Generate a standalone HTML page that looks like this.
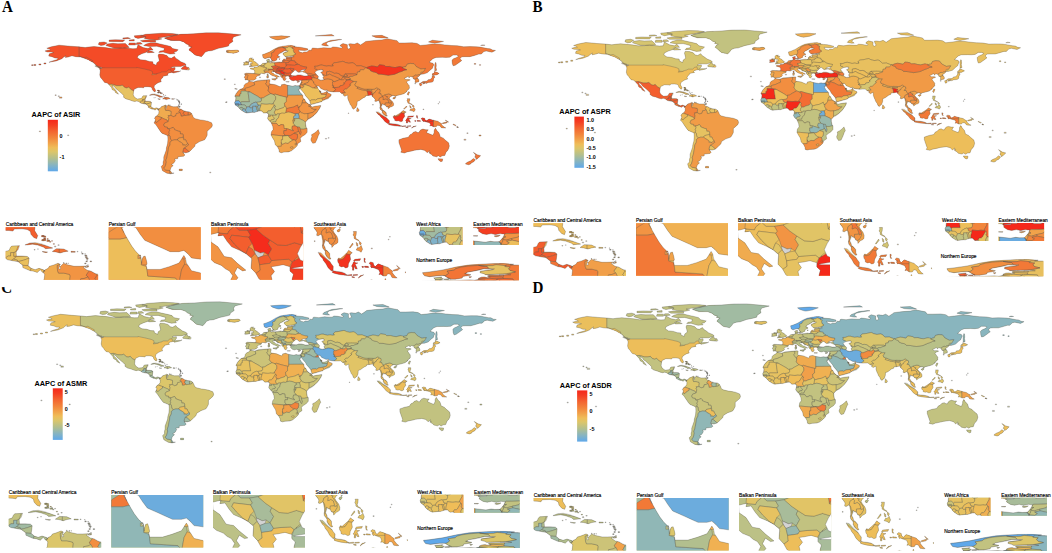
<!DOCTYPE html><html><head><meta charset="utf-8"><style>
html,body{margin:0;padding:0;background:#fff;}
body{width:1052px;height:553px;overflow:hidden;position:relative;}
svg{position:absolute;left:0;top:0;}
text{font-family:"Liberation Sans",sans-serif;}
.lt{font-weight:bold;font-size:7.3px;fill:#000;}
.ll{font-weight:bold;font-size:5.4px;fill:#000;}
.it{font-size:4.85px;fill:#000;stroke:#000;stroke-width:0.15px;}
.pl{font-family:"Liberation Serif",serif;font-weight:bold;font-size:16.6px;fill:#000;}
</style></head><body>
<svg width="1052" height="553" viewBox="0 0 1052 553">
<defs>
<linearGradient id="lg" x1="0" y1="1" x2="0" y2="0">
<stop offset="0.0" stop-color="#5fa8ea"/>
<stop offset="0.12" stop-color="#86b4c2"/>
<stop offset="0.25" stop-color="#b2bf8e"/>
<stop offset="0.38" stop-color="#dcc66a"/>
<stop offset="0.46" stop-color="#efbd58"/>
<stop offset="0.55" stop-color="#f1a24a"/>
<stop offset="0.65" stop-color="#f2863c"/>
<stop offset="0.78" stop-color="#f36430"/>
<stop offset="0.9" stop-color="#f43e22"/>
<stop offset="1.0" stop-color="#f5281a"/>
</linearGradient>
<path id="land" d="M-168,-65.6L-166,-66.3L-163.5,-66.6L-164.5,-67.6L-166.5,-68.3L-163,-69.7L-156.8,-71.3L-152,-70.8L-148,-70.3L-141,-69.7L-136,-69L-133,-69.5L-129,-70L-125,-69.5L-120,-69L-115,-68L-110,-68.2L-106,-68.8L-98,-67.8L-95,-68L-94,-71.8L-90,-69L-86,-68L-84,-69.5L-82,-66.5L-85,-66.5L-87,-64.5L-91,-62.8L-94,-61L-94.5,-59L-92,-57L-88,-56.5L-85,-55.2L-82.3,-55L-82,-53L-79.5,-51.5L-79,-54L-77,-55.8L-77.5,-58.5L-78,-60.8L-77.5,-62.5L-74,-62.3L-71,-61.1L-69.5,-59L-67.5,-58.5L-65,-60.3L-64,-58.5L-61.5,-56.5L-60,-55L-57,-53.5L-55.7,-52.2L-57,-51.4L-60,-50.2L-64,-50.2L-66.5,-50L-68,-48.8L-64.5,-49.2L-64.5,-47.5L-66,-45.3L-64,-45.5L-61,-45.5L-60,-46L-61.5,-45L-66,-43.8L-67,-44.6L-70,-43.7L-70.8,-42.7L-70,-41.8L-71.5,-41.4L-74,-40.6L-74.2,-39.5L-75,-38.8L-76,-37L-75.5,-35.2L-77.5,-34.5L-79,-33.5L-81,-31.5L-81.2,-29.5L-80,-26.8L-80.4,-25.2L-81.5,-25.8L-82.6,-27.5L-82.8,-29L-84,-30L-86,-30.4L-89,-30.3L-89.5,-29.2L-91,-29.5L-94,-29.6L-97,-27.8L-97.5,-25.8L-97.8,-22.5L-97.3,-21L-96,-19.2L-94.5,-18.2L-92,-18.6L-91,-19L-90.5,-20.5L-90,-21.3L-87,-21.5L-87.5,-19.5L-88.3,-18.2L-88.2,-16L-86,-16L-84,-15.8L-83.3,-15L-83.5,-12.5L-83.7,-11L-82.5,-9.5L-81,-8.8L-79.5,-9.5L-77.5,-8.6L-77.3,-7.9L-78.2,-7.4L-79,-8.8L-80.2,-7.3L-81.5,-8L-83,-8.3L-85.7,-9.9L-85.8,-11.2L-87.5,-13L-89.5,-13.5L-91.5,-14L-93.5,-15.7L-95,-16.2L-96.5,-15.7L-98.5,-16.3L-101,-17.5L-103.5,-18.3L-105.5,-20L-105.3,-21.5L-106.5,-23.2L-108.5,-25.3L-110,-27L-111.5,-28.3L-112.8,-30.5L-114.7,-31.8L-114.2,-30L-112.5,-28L-111.3,-26L-110.2,-24.2L-109.5,-23L-110.3,-23.5L-112,-24.7L-112.2,-26L-114.5,-27.5L-115,-29.5L-116.5,-31.5L-117.1,-32.5L-118.5,-34L-120.6,-34.6L-121.9,-36.6L-122.5,-37.8L-123.8,-39.5L-124.4,-42L-124,-46.2L-124.7,-48.4L-123,-48.2L-122.6,-49L-124.5,-50L-127.5,-51L-128,-52.5L-130,-54.5L-131.5,-55.5L-133.5,-57L-136.5,-58.3L-139.5,-59.6L-143.5,-60L-146.5,-60.8L-149.5,-59.6L-151.8,-59.2L-151.5,-61L-153.5,-59.2L-154.5,-58L-156.5,-57L-159,-55.8L-162.5,-55L-164.8,-54.4L-162,-55.8L-158.5,-57L-157.5,-58.5L-160,-58.7L-162.5,-60L-165,-60.6L-164.5,-62.8L-161,-64L-163,-64.5L-166.2,-64.6ZM-73,-78.5L-66,-80.5L-60,-82L-50,-82.5L-40,-83.5L-30,-83.6L-20,-82.5L-12,-81.5L-18,-79.5L-19,-77L-18.5,-75L-21.5,-72.5L-22,-70.5L-25,-69.5L-30,-68.2L-35,-66L-38,-65.6L-40.5,-64.5L-42,-62L-43.5,-60L-45,-60.5L-48.5,-61.5L-50.5,-63.5L-51.7,-65L-53.5,-66.5L-52.5,-68.5L-51,-69.5L-54,-70.5L-53,-71.5L-55.5,-72.5L-57.5,-74.5L-61,-76L-68,-76L-71.5,-77.5ZM-64.5,-63L-68.5,-62.5L-71.5,-63.5L-74,-64.5L-77.5,-64.2L-76.5,-65.5L-73.5,-66L-73,-68.2L-76,-69.2L-79,-70.2L-85,-70L-89.5,-71L-87.5,-72.5L-84,-73.6L-80,-73.6L-76.5,-72.5L-71,-71L-68,-70L-66.5,-68L-62,-66.8L-63.5,-65L-65.5,-64.5ZM-79,-76.3L-75,-77.5L-78,-78.5L-73,-79.5L-66,-80.8L-62,-82L-67,-82.8L-75,-83.1L-88,-82L-92,-80.5L-88,-79.5L-89,-78L-85,-77ZM-80,-74.5L-90,-74.5L-92,-75.8L-88,-76.5L-80,-76.2ZM-101,-69L-102,-70.5L-104,-73L-110,-72.8L-114,-73.2L-118.5,-72.5L-119.5,-71L-117,-70L-113,-68.5L-105,-68.5ZM-121,-71.4L-118.5,-73.5L-121,-74.5L-125,-74L-125.5,-72L-123.5,-71ZM-101.5,-71.5L-96,-71.5L-96,-73.5L-101,-73.5ZM-95.5,-72L-90.5,-72.5L-92,-74L-95,-73.8ZM-117,-75L-106,-74.8L-104.5,-76.4L-112,-76.7L-117,-76.3ZM-101,-75.5L-97,-75.5L-97,-77L-101,-76.5ZM-94,-78L-87.5,-79.5L-91,-81.2L-97,-80.5L-96.5,-79ZM-106,-77.5L-100,-78L-102,-78.8L-106,-78.5ZM-86.5,-63.8L-81,-64.2L-83,-65.2L-85,-66L-87,-65.5ZM-59.3,-47.6L-53.5,-46.7L-52.7,-47.6L-53.5,-49.3L-55.5,-49.6L-56,-51.5L-57.5,-50.6L-59.5,-48.5ZM-123.3,-48.3L-125,-48.8L-128.3,-50.7L-127,-50.8L-124,-49.5ZM-84.9,-21.9L-83,-22.9L-81,-23.1L-78.5,-22.4L-76,-21.1L-74.2,-20.2L-77,-19.9L-77.7,-20.7L-80,-21.8L-82,-22.3L-84,-21.9ZM-74.4,-18.4L-72.8,-19.9L-70,-19.7L-68.3,-18.6L-70,-18.2L-71.4,-17.6L-73,-18.2ZM-78.3,-18.4L-76.2,-18.1L-76.8,-17.8L-78,-18.2ZM-67.2,-18.5L-65.6,-18.4L-65.6,-18L-67.2,-18ZM-77.3,-8.6L-76,-9.5L-75.5,-10.6L-74,-11.2L-72.2,-12.2L-71.3,-11.6L-71.8,-10.8L-71.3,-10.5L-70,-12.2L-69,-11.5L-66,-10.6L-64,-10.6L-61.8,-10.7L-62.5,-10L-61,-8.5L-59.5,-8L-58,-6.8L-55.5,-5.9L-53,-5.5L-51.5,-4.2L-50.5,-1.8L-50,0L-48.5,1.2L-44.5,2.4L-41.5,2.9L-38.5,3.7L-35.5,5.2L-34.8,7.5L-35.3,9.5L-37.5,12L-39,13.5L-39,17.5L-40,20L-41,22L-43.2,23L-45,23.8L-48.5,26.5L-48.8,28.5L-50.5,30.5L-52.5,33L-53.5,34L-56,34.9L-58.3,34.2L-57.2,36.3L-56.7,37L-57.6,38.2L-62.2,38.8L-62.3,40.6L-65,41L-64.3,42.5L-65.5,45L-67.5,46.5L-66,47.5L-67.8,49.5L-68.5,52.3L-67,54.9L-65.3,54.9L-68,55.6L-71,55L-74.5,52.5L-75.5,48.5L-74,46.5L-74,44L-73.5,42L-73.5,39L-72.5,35.5L-71.5,32L-71.4,30L-70.5,26L-70.2,22L-70.3,18.3L-71.5,17.3L-75,15.5L-76.3,13.5L-78.5,9.5L-79.8,7L-81.2,5.5L-80.5,3.5L-80,2.2L-80.9,1L-80,-1L-78.8,-1.8L-77.5,-3.8L-77.3,-6.5L-77.9,-7.2ZM-5.9,-35.8L-2,-35.1L1,-36.5L5,-36.8L9.8,-37.3L11,-37.1L10.5,-35.5L11.1,-35.2L10.2,-34.2L11,-33.3L11.5,-33L15.2,-32.3L19,-30.3L20.1,-31L20,-32.2L22.5,-32.8L25,-31.7L29,-30.9L31,-31.5L32.3,-31.2L34.2,-31.3L34.9,-29.5L34.3,-27.8L33.5,-27.5L35,-24.5L36.9,-22L37.3,-19L38.5,-18L39.7,-15.1L41.7,-13.2L43.3,-12.5L43.2,-11.6L44.5,-10.4L47,-11.1L51.3,-11.8L51.1,-10.4L50,-8L48,-4.5L46,-2L43.5,0.5L41.5,1.8L40,3.5L39.2,4.7L39.3,6.8L39.8,10L40.5,10.8L40.5,14.5L39,16.8L36.8,18.5L35,20.5L35.5,23.8L32.9,25.9L32.6,27.8L31,29.9L28,32.9L25.6,34L22,34.2L20,34.8L18.4,34.2L18.2,32L17,29L15.2,27L14.5,23L13.2,20.5L11.8,17.3L12.2,14L13.5,12L13.2,9L12.2,6L11.8,5L10,3L9,0.7L9.5,-1L9.8,-3L9,-4L8.5,-4.5L6,-4.3L5,-5.5L4,-6.4L2,-6.3L-1.5,-5L-3,-5.1L-7.5,-4.4L-9,-5L-11.5,-6.8L-13,-8.3L-13.7,-9.5L-15,-11L-16.7,-12.4L-17.2,-14.7L-16.5,-16.3L-16.2,-19.5L-17,-21L-16,-23.5L-14.5,-26L-13,-27.6L-11,-28.5L-9.8,-29.8L-9.7,-31.5L-8.5,-33.3L-6.8,-34.1ZM49.3,12L50.4,15.5L49.5,17.5L48.5,21L47,25L45,25.5L43.7,23L43.5,21.5L44.3,19L44,17L46,15.7L47.8,14ZM-5.6,-36L-6.3,-36.8L-7.5,-37.2L-8.9,-37L-8.8,-38.7L-9.5,-39.4L-8.7,-41.5L-9.3,-43L-8,-43.7L-5.8,-43.6L-3,-43.4L-1.5,-43.4L-1.2,-44.5L-1.2,-46.2L-2.3,-47.2L-4.7,-47.9L-4.5,-48.6L-1.6,-48.7L-1.5,-49.7L0,-49.5L1.5,-50.1L1.8,-51L3.5,-51.4L4.5,-52.4L5,-53.3L7,-53.5L8.7,-53.9L8.6,-55.5L8.2,-56.8L10.5,-57.7L10.2,-56.5L10.9,-56L10.5,-55L9.9,-54.5L11,-54L12.5,-54.4L14,-54.1L16,-54.4L18.5,-54.8L19.8,-54.4L21,-55.3L21,-56.5L21.8,-57.5L22.6,-57.7L23.5,-57L24.3,-57.5L23.5,-58.6L24,-59.3L28,-59.5L30.2,-59.9L28.5,-60.5L26,-60.4L23,-60L22.5,-61L21.4,-62L21.5,-63.5L23.5,-64.5L25.3,-65.3L25.5,-65.8L22.5,-65.8L21,-64.5L19.5,-63.5L17.8,-62.5L17.3,-61L18.8,-60L18.5,-59.3L16.5,-58.3L16.3,-56.6L14.3,-55.5L12.8,-55.5L12.5,-56.3L11.8,-57.7L11.2,-59L10.5,-59.2L9.5,-59L7,-58L5.6,-58.8L5.2,-60.5L5,-62L6.5,-62.5L8.5,-63.5L10.5,-64.5L12.5,-66L14.5,-67.5L16.2,-68.5L18,-69.5L20,-70L23,-70.6L25.8,-71.1L28,-71L31,-70.3L30,-69.7L33,-69.4L36,-69.1L41,-67.7L41,-66.5L38.5,-66.1L35,-66.3L33.5,-66.5L34.5,-64.5L37,-63.8L38,-64.6L40.5,-64.6L42,-66.4L44,-66.2L44.2,-67.9L45,-68.5L49,-68L53.5,-68.8L57,-68.5L59.5,-68.5L61,-69.6L64,-69.3L68,-68.4L68.5,-69.6L66.8,-70.5L67,-71.5L69,-72.9L72.5,-71.8L72.5,-70.5L72.5,-68.5L73.5,-67.5L75,-68.5L74,-71L73.5,-72.5L75,-72.8L78,-72.3L80.5,-73.5L83,-71.5L86,-74L87,-75L94,-76L100,-76.5L104,-77.7L107,-77L112,-75.8L113.5,-73.5L118,-73.5L124,-73.7L128,-73L130.5,-71L135,-71.6L140,-72.5L146,-72.3L150,-71.6L155,-71L160,-70.8L165,-69.7L170,-69.9L175,-69.8L178,-69.4L180,-68.9L184,-68L186,-67.8L188,-66.5L190.3,-66.1L187.5,-64.4L183,-65.5L181,-65L179,-62.5L177,-62.5L173,-61L170,-60L166,-60L163.5,-59.9L162,-58L163.5,-56.2L162,-54.8L160,-53L158.3,-51.5L156.6,-51L156,-53L155.7,-56.5L156.8,-57.8L159,-59L161,-60.5L159.5,-61.5L156.5,-61.5L154,-59.5L151,-59.2L148,-59.3L143,-59.2L140.5,-58L137.5,-54.5L140.5,-53.5L141.3,-52L140.5,-50L140.2,-48.5L138.5,-46.9L136,-44L133,-42.8L131,-42.6L129.7,-41L128,-39.5L129.4,-37L129.3,-35.3L127,-34.6L126.3,-34.6L126.5,-36.5L126.1,-37.7L125,-38L124.7,-39.7L122.5,-40.5L121.5,-39L121,-40.8L120,-40L118.5,-39L117.7,-38.7L118.8,-37.5L121.5,-37.5L122.5,-37L120.5,-36L119.5,-35L120.9,-32.5L121.9,-31L121.5,-30L122,-29.5L121.5,-28L120,-26.5L119.5,-25.3L117.5,-23.5L114.5,-22.4L112,-21.7L110.5,-20.4L109.8,-21.5L108.5,-21.6L107.5,-21L106.6,-20.4L105.8,-19L106.7,-17.5L108.5,-15.5L109.3,-13.5L109.2,-11.7L108,-10.8L106.8,-10.4L105,-8.6L104.8,-10.2L103.5,-10.6L102.5,-12.2L101,-12.7L100,-13.4L100.2,-12.4L99.3,-10.3L100.3,-8.3L100.5,-7.2L101.3,-6.8L102.3,-6.1L103.4,-4.8L103.5,-2.7L104.3,-1.4L103.3,-1.3L101.3,-2.8L100.3,-4.5L100.3,-6.2L99.7,-6.8L98.5,-8.2L98.3,-9.5L98.6,-11L98.5,-13L97.7,-16.4L97.3,-16.8L95.3,-15.8L94.3,-16.1L94.6,-18L93.5,-19.5L92.3,-20.7L91.8,-22.3L90.5,-22L89,-21.7L87,-21.5L86.8,-20.2L85,-19.3L82.2,-16.7L80.3,-15.8L80.2,-13.2L79.8,-11.5L79.3,-10.3L78.2,-8.9L77.5,-8.1L76.5,-9L75.8,-11.3L74.8,-12.8L74.1,-15L73.5,-16.5L72.8,-19L72.8,-21.2L72.6,-22.2L70.5,-20.8L69,-22.3L70,-22.8L68.5,-23.5L67.5,-24L66.5,-25.4L64,-25.3L61.6,-25.2L60,-25.4L58.5,-25.7L57.3,-25.9L56.8,-26.6L56.3,-27.1L55.66,-26.9L54.5,-26.9L53.6,-27.4L52.7,-27.9L51.2,-28.72L50.6,-29.7L50.05,-30.74L49.6,-30.95L48.6,-30.95L48.2,-30.74L48.6,-29.7L49.05,-28.72L49.5,-27.8L50.05,-26.9L50.4,-26.5L50.7,-26.08L50.8,-25L50.85,-25.6L51,-26.1L51.25,-26.2L51.4,-25.6L51.5,-25L51.4,-24.7L51.5,-24.06L52.3,-24.06L53.2,-24.06L54.4,-24.5L55.66,-25.07L56,-25.7L56.3,-26.3L56.5,-25.9L56.65,-25.07L57.3,-23.85L58.5,-23.5L59,-23.2L59.8,-22.5L59,-20.5L58.5,-20.4L57.8,-19L56.6,-18.3L55.4,-17.8L53,-16.7L52.2,-15.6L49,-14.5L46,-13.4L43.5,-12.7L43.3,-13.5L42.8,-15L42.5,-16.5L41.3,-18.5L39.2,-21.5L38.3,-23.7L37,-25.5L35.5,-27.8L34.9,-29.3L34.9,-29.6L34.2,-31.3L34.9,-32.6L35.1,-33.1L35.5,-33.9L35.9,-35.3L36.2,-36.6L35.5,-36.6L34.6,-36.8L32.8,-36.1L31.2,-36.8L29.5,-36.2L28,-36.7L27.3,-37.5L26.5,-38.5L26.8,-39.5L26.2,-40L26.2,-40.6L25,-40.9L23.8,-40.7L22.9,-40.6L23.5,-39.9L22.9,-39.3L23.2,-38.2L24,-38.2L23.1,-37.2L23,-36.5L22.5,-36.4L21.7,-36.8L21.3,-37.7L21.8,-38.3L20.8,-38.8L20.2,-39.7L19.4,-40.4L19.5,-41.8L18.5,-42.5L17.4,-43L16,-43.5L15.2,-44.3L14.5,-45.2L13.6,-45.1L13.8,-45.6L12.3,-45.3L12.4,-44.2L13.6,-43.5L14.7,-42.1L16,-41.9L17,-41.1L18.5,-40.1L17.9,-40L17,-40.5L16.5,-39.7L17.1,-39L16.1,-37.9L15.6,-38.3L16.2,-39.3L15.6,-40L14.9,-40.3L14.2,-40.8L13,-41.2L11.9,-42L10.8,-42.9L10.2,-43.9L8.8,-44.4L7.5,-43.8L6.5,-43.1L5,-43.4L4,-43.5L3.1,-43L3.2,-41.9L2.2,-41.3L0.9,-41L0,-39.8L-0.3,-39.4L0.2,-38.7L-0.7,-37.6L-2.1,-36.7L-4.4,-36.7L-5.4,-36.1ZM-5.7,-50.1L-3.5,-50.3L-1,-50.7L1.4,-51.2L1.7,-52.6L0.3,-53.5L-0.1,-54.4L-1.5,-55.2L-2,-56L-2.6,-56.4L-1.8,-57.6L-4,-57.6L-3,-58.6L-5,-58.6L-5.7,-57.5L-5.7,-56.5L-6,-55.5L-5,-55L-4.8,-54.7L-3.4,-54.9L-3.5,-54L-3,-53.4L-4.7,-53.2L-4.2,-52.3L-5.2,-51.8L-3.2,-51.4L-4.5,-51.1ZM-6,-52.2L-6.2,-53.4L-6,-54.5L-5.6,-54.8L-7,-55.3L-8.4,-55.2L-8.6,-54.3L-10,-54.2L-9.9,-53.4L-9,-52.9L-10.3,-52L-9.8,-51.5L-8,-51.7ZM-22.5,-63.9L-21,-63.8L-18,-63.4L-15,-64.3L-13.6,-65.2L-14.5,-66.3L-16,-66.5L-18,-66.2L-20,-66.1L-22.5,-66.4L-24,-65.5L-22,-64.9L-24,-64.8ZM15,-77L17,-76.5L22,-77.5L27,-79.8L20,-80.5L10.5,-79.7L12,-78.3ZM52,-71.4L55.5,-70.6L57.5,-70.7L55.5,-72.5L57,-74.5L62,-75.8L68,-76.9L66,-77L59,-76L55,-74L53,-73ZM95,-79L100,-78.5L105,-78.5L100,-81L92,-80.5ZM137,-74.5L142,-73.2L149,-75L140,-76.2ZM178.5,-71L182,-71.2L180,-71.6ZM47,-80.5L60,-81.9L62,-80.5ZM79.8,-6.2L80.3,-9.8L81.9,-7.4L81.5,-6.2L80.6,-5.9ZM130.9,-34L132.5,-35.5L135,-35.7L136,-36L136.7,-37.3L138.5,-37.5L139.9,-39.5L140,-40.8L141.5,-41.3L142,-39.5L141,-38.3L141,-37L140.8,-35.7L140,-35L139,-34.7L137,-34.6L135.2,-33.5L135,-34.5L133.5,-34.3L131,-33.9ZM129.8,-33.5L131,-33.9L131.8,-32.5L131.2,-31.3L130.3,-31.2L129.8,-32.7ZM132.5,-33L134.7,-33.8L134.3,-34.3L132.8,-34ZM140,-41.5L141.2,-41.8L143.3,-42L145.5,-43.3L144.5,-44L141.7,-45.4L141.6,-43.5L140.3,-43.3ZM142,-46L143.5,-46.5L143,-49.3L143.2,-51L143,-54L142.5,-54.3L142,-51.5L142,-48ZM120.1,-23L121,-25.3L122,-25L121,-22L120.7,-22ZM108.6,-19.2L110.4,-20.1L111,-19.6L110,-18.2L109,-18.4ZM120,-18.5L122.2,-18.5L122,-16.5L121.5,-15.2L122,-14L124,-13L123.8,-12.6L122.7,-13.2L121.5,-13.7L120.6,-14.2L120.5,-15.5L119.8,-16.3L120.4,-17.5ZM122,-7L123,-8.5L124,-8.4L125.5,-9.8L126.5,-7.5L125.5,-5.6L124,-6.5ZM124.3,-12.5L125.7,-11.2L125,-10L124.3,-10.8ZM122,-11.8L123,-11L123.3,-9.3L122.4,-9.6ZM117.2,-8.4L119.5,-11.3L119.9,-10.5L117.8,-8.3ZM95.3,-5.6L97.5,-5.2L100.3,-2.5L103.5,0L104.5,1.5L106,3.2L105.8,5.8L104.5,5.9L102.3,4L100.8,1.5L99,-0.5L98.5,-1.7L97,-3ZM105.2,6.8L106,5.9L108.3,6.3L110.5,6.5L112.6,6.9L114.5,7.7L114.4,8.7L110,8.2L106.5,7.4ZM114.5,8.2L115.7,8.3L115.7,8.8L114.5,8.6ZM116,8.5L119,8.2L119,8.8L116,8.9ZM119.8,8.4L123,8.2L123,8.7L119.8,8.8ZM119,9.5L120.8,9.7L120.8,10.2L119,9.9ZM123.5,10.3L125,9L127.3,8.4L125,9.5L123.8,10.4ZM109.6,-2L111,-1.7L113,-3.2L114.6,-4.5L115.5,-5.3L116.8,-6.9L118,-6L119.3,-5.3L118,-4.3L117.7,-3.5L118.1,-1.1L117.5,0L116.6,1.5L116.4,3.4L115.9,3.9L114.6,4.1L113,3.2L111.8,3.5L110.2,2.9L110.1,1.7L109.2,0.5L109,-1ZM119.4,5.5L120.4,5.5L120.5,3L121.4,4.6L122.8,4.8L122,3L121.3,1.9L123.3,1L121.5,0.9L120.2,-0.5L121.1,-1.2L124.5,-1.5L125.2,-1.6L124.6,-0.5L121,-0.3L120,0.8L119.5,2L118.8,3L119.6,4ZM127.5,-2L128.5,-1.5L128,-0.5L128.7,0.8L127.8,0.6L127.5,-0.8ZM128,3L130.5,3.2L130.8,3.8L128,3.7ZM126,3.2L127.2,3.3L127,3.8L126.1,3.7ZM131,1.3L132.2,0.4L134,0.9L134.3,2.5L135.5,3.3L137.5,1.6L140,2.4L142.5,3.2L144.5,3.8L145.8,5L147.6,6.1L147.3,7L148.2,8.1L149.5,9.5L150.8,10.3L149.5,10.4L147.2,10.1L146,8.1L144.2,7.7L143.3,9L142.3,9.2L141,9.1L139.2,8.1L138,8.3L138.7,7L137.8,5.2L135.2,4.4L133.5,3.8L132.8,4.1L132,2.8L133.2,2.4L132.3,2.2ZM148,5.5L152,4.3L151.5,5.5L148.3,6.1ZM150.5,2.6L153,4.5L152.5,4.7L150.5,3ZM156.5,6.5L159,7.8L158.5,8.2L156.5,7ZM159.5,9.2L161,9.8L160.5,10L159.5,9.6ZM113.5,22L114.2,21.8L116.7,20.6L121,19.5L122.3,17L123.5,16.5L125,14.6L126.9,13.8L128.3,14.9L129.5,14.9L130.1,13.2L131,12.2L132.6,11.5L135,12.2L136.8,12.2L136,13.5L135.5,15L137.7,16.2L140.5,17.6L141.5,15L141.6,12.7L142.5,10.7L143.5,12.7L144.5,14.2L145.3,15L145.9,17L146.3,19L148.8,20.4L150.5,22.5L153,25L153.6,28.2L153,31L152,33L151,34L150,37.5L148,37.8L146.3,39L144.9,37.8L143.5,38.8L140.5,38L139.5,36.5L138,35.6L138.5,34.3L137.5,35.2L137.8,32.8L136,34.8L135,33.5L134.2,32.6L131,31.5L126,32.3L124,33L120,34L117.9,35.1L115,34.3L115.7,32.5L115,30L114,26.5L113.5,24.5ZM144.6,40.7L148.3,40.9L148,43.2L146.8,43.6L145.2,42.2ZM172.7,34.4L174.5,35.8L175.7,36.8L178.5,37.7L177,39.5L176.2,40.5L174.8,41.4L174.6,39.6L173.8,39.2L174.5,37ZM172.7,40.5L174.3,41.7L173,43.8L171,44.9L170.5,46L169,46.7L166.5,46L166.7,45.2L168.3,44L170.6,42.8L172,41.3ZM50.5,-26L50.65,-26L50.65,-26.35L50.5,-26.35ZM32.3,-35.1L33,-35.4L34.6,-35.7L34,-35L33,-34.6ZM23.5,-35.3L26.3,-35.3L26,-35L23.6,-35.2ZM12.4,-38.1L15.6,-38.3L15.1,-36.7L12.5,-37.6ZM8.4,-41L9.8,-41.2L9.6,-39L8.5,-38.9ZM8.6,-42.9L9.5,-43L9.5,-41.4L8.8,-41.6ZM11,-55.5L12.6,-56L12.4,-55.2L11.2,-55.2ZM18.2,-57.9L19,-57.9L18.5,-57ZM-61.9,-10.05L-60.9,-10.1L-61,-10.85L-61.6,-10.7ZM-176.8,-52.28h1.6v0.96h-1.6ZM-172.8,-52.78h1.6v0.96h-1.6ZM-168.8,-53.78h1.6v0.96h-1.6ZM-178.6,-51.96h1.2v0.72h-1.2ZM173.4,-53.16h1.2v0.72h-1.2ZM177.5,-52.1h1v0.6h-1ZM-156.5,-20.2h2v1.2h-2ZM-157.5,-21.3h1v0.6h-1ZM-160,-22.3h1v0.6h-1ZM-78.1,-24.86h1.2v0.72h-1.2ZM-76.5,-24.3h1v0.6h-1ZM-78.5,-26.8h1v0.6h-1ZM-77.7,-25.74h0.8v0.48h-0.8ZM-61.7,-15.64h0.8v0.48h-0.8ZM-61.4,-14.84h0.8v0.48h-0.8ZM-62,-12.28h0.6v0.36h-0.6ZM-61.5,-13.38h0.6v0.36h-0.6ZM-59.9,-13.38h0.6v0.36h-0.6ZM-61.9,-16.44h0.8v0.48h-0.8ZM-63.1,-17.38h0.6v0.36h-0.6ZM-61.5,-10.8h1v0.6h-1ZM-25.5,-38.1h1v0.6h-1ZM-17,-28.6h1v0.6h-1ZM-15.9,-28.24h0.8v0.48h-0.8ZM-17.4,-32.94h0.8v0.48h-0.8ZM-24.4,-15.24h0.8v0.48h-0.8ZM-23.9,-15.44h0.8v0.48h-0.8ZM-61.2,50.98h2.4v1.44h-2.4ZM-37,54h1v0.6h-1ZM55,20.7h1v0.6h-1ZM57.2,19.96h0.8v0.48h-0.8ZM165.2,21.52h1.6v0.96h-1.6ZM177.2,17.32h1.6v0.96h-1.6ZM-172.5,13.4h1v0.6h-1ZM-150,17.3h1v0.6h-1ZM167.5,15.2h1v0.6h-1ZM159.6,9.26h0.8v0.48h-0.8ZM73.1,-4.38h0.6v0.36h-0.6ZM92.4,-12.74h0.8v0.48h-0.8ZM132.6,-8.24h0.8v0.48h-0.8ZM144.5,-13.68h0.6v0.36h-0.6ZM145.4,-15.38h0.6v0.36h-0.6ZM2.5,-39.9h1v0.6h-1ZM126.1,-33.64h0.8v0.48h-0.8ZM-78.35,-26.81h0.7v0.42h-0.7ZM-77.5,-26.58h0.6v0.36h-0.6ZM-78.45,-24.67h0.9v0.54h-0.9ZM-77.55,-25.17h0.4v0.24h-0.4ZM-76.45,-25.15h0.5v0.3h-0.5ZM-75.95,-24.45h0.5v0.3h-0.5ZM-75.45,-23.65h0.5v0.3h-0.5ZM-74.7,-24.12h0.4v0.24h-0.4ZM-74.05,-22.55h0.5v0.3h-0.5ZM-73.6,-21.23h0.6v0.36h-0.6ZM-72.25,-21.95h0.5v0.3h-0.5ZM-64.9,-18.47h0.4v0.24h-0.4ZM-63.25,-18.19h0.3v0.18h-0.3ZM-62.9,-17.39h0.3v0.18h-0.3ZM-61.98,-17.21h0.36v0.22h-0.36ZM-61.8,-16.35h0.5v0.3h-0.5ZM-61.53,-15.51h0.36v0.22h-0.36ZM-61.2,-14.77h0.4v0.24h-0.4ZM-61.1,-13.99h0.3v0.18h-0.3ZM-61.32,-13.32h0.24v0.14h-0.24ZM-61.82,-12.17h0.24v0.14h-0.24ZM-59.7,-13.24h0.3v0.18h-0.3ZM-60.85,-11.34h0.3v0.18h-0.3ZM-69.2,-12.32h0.4v0.24h-0.4ZM-70.15,-12.59h0.3v0.18h-0.3ZM-68.42,-12.27h0.24v0.14h-0.24ZM-81.4,-19.42h0.4v0.24h-0.4ZM-80.05,-19.79h0.3v0.18h-0.3Z"/>
<path id="water" d="M27.5,-42.5L28,-43.4L28.6,-44.2L29.6,-45.2L30.6,-46.5L31.5,-46.6L32.5,-45.4L33.5,-44.5L34.5,-44.6L36.6,-45.3L37.5,-44.7L38.5,-44.3L40,-43.4L41.5,-41.6L40,-41L38,-41L36.2,-41.7L35,-42L33,-42L31.3,-41.2L29.1,-41.2L28,-41.6ZM35,-45.7L35.5,-46.5L37,-47.1L39.2,-47.2L38,-46L36.6,-45.4ZM46.7,-44.5L47.5,-45.7L49,-46.5L51.5,-47L53,-46.9L53,-45.3L51.3,-44.5L52.6,-42.8L52.9,-41.5L53.9,-40.6L53,-39.3L53.9,-37.3L51.5,-36.8L50,-37.4L49,-38.4L49.5,-40.3L48.5,-41.8L47.5,-43ZM26.5,-40.4L29.5,-40.8L29,-40.3L27,-40.3ZM-71.9,-9.1L-71.2,-9.2L-71.4,-10.6L-71.7,-10.5Z"/>
<clipPath id="lc"><use href="#land"/></clipPath>

<path id="c_CAN" d="M-141,-86L-141,-60.3L-130,-54.5L-125,-49L-60,-40L-40,-70L-60,-86Z"/>
<path id="c_USA" d="M-126,-49L-95,-49L-95,-49.4L-89.5,-48L-84.5,-46.5L-82.5,-45.3L-82.4,-43L-83,-42L-79,-42.8L-79,-43.3L-76.5,-44L-75,-45L-71.5,-45L-70,-46.7L-68,-47.3L-67.8,-45.5L-66.5,-44.5L-60,-40L-75,-25L-80,-24L-97.2,-25.9L-99.5,-27.5L-101.4,-29.8L-103,-29L-104.5,-29.6L-106.5,-31.8L-108.2,-31.3L-111,-31.3L-114.7,-32.7L-117.1,-32.5L-125,-32Z"/>
<path id="c_ALA" d="M-190,-75L-141,-75L-141,-60.3L-137,-59L-135,-59.5L-133,-58L-130,-56L-130,-54.5L-135,-54L-190,-50Z"/>
<path id="c_MEX" d="M-117.1,-32.5L-114.7,-32.7L-111,-31.3L-108.2,-31.3L-106.5,-31.8L-104.5,-29.6L-103,-29L-101.4,-29.8L-99.5,-27.5L-97.2,-25.9L-95,-25L-86,-21.5L-87.5,-21.5L-88.3,-18.5L-89.1,-17.8L-90.4,-17.8L-90.4,-16L-91.4,-16L-92.2,-15.2L-92.2,-14.5L-93,-14L-120,-20L-120,-33Z"/>
<path id="c_GTM" d="M-92.2,-14.5L-92.2,-15.2L-91.4,-16L-90.4,-16L-90.4,-17.8L-89.1,-17.8L-89.2,-15.9L-88.2,-15.7L-89.2,-14.5L-90.1,-13.7L-92,-13.5Z"/>
<path id="c_BLZ" d="M-89.1,-17.8L-88.3,-18.5L-87.5,-18.5L-88.2,-16L-89.2,-15.9Z"/>
<path id="c_SLV" d="M-90.1,-13.7L-89.2,-14.5L-87.8,-13.9L-87.7,-13.2L-89.5,-13.3Z"/>
<path id="c_HND" d="M-89.2,-14.5L-88.2,-15.7L-84,-16L-83.1,-15L-85,-14L-86.8,-13.3L-87.7,-13.2L-87.8,-13.9Z"/>
<path id="c_NIC" d="M-83.1,-15L-85,-14L-86.8,-13.3L-87.7,-12.9L-85.7,-11.1L-83.7,-10.9L-83.2,-12Z"/>
<path id="c_CRI" d="M-85.7,-11.1L-83.7,-10.9L-82.5,-9.5L-82.9,-8L-86,-9.5Z"/>
<path id="c_PAN" d="M-82.5,-9.5L-82.9,-8L-80,-7L-77.2,-7.5L-77.8,-8.8L-79.5,-9.8Z"/>
<path id="c_CUB" d="M-86,-21L-74,-19.5L-74,-21L-86,-23.5Z"/>
<path id="c_HTI" d="M-75,-17.5L-71.7,-17.5L-71.7,-20L-75,-20Z"/>
<path id="c_DOM" d="M-71.7,-17.5L-68,-17.5L-68,-20L-71.7,-20Z"/>
<path id="c_JAM" d="M-79,-17.5L-76,-17.5L-76,-18.7L-79,-18.7Z"/>
<path id="c_PRI" d="M-68,-17.8L-65,-17.8L-65,-18.7L-68,-18.7Z"/>
<path id="c_BHS" d="M-79.5,-23.6L-73,-21.3L-73,-27.5L-79.5,-27.5Z"/>
<path id="c_GRL" d="M-73.5,-78L-69.5,-79.8L-66.5,-80.7L-63,-81.8L-61,-82.6L-58,-84.5L-10,-84.5L-10,-59L-44,-59L-50,-61L-56,-66L-55.5,-70L-58,-74L-66,-75.8Z"/>
<path id="c_ISL" d="M-25,-63L-13,-63L-13,-67L-25,-67Z"/>
<path id="c_COL" d="M-77.3,-8.6L-75,-11.5L-72,-12.5L-71,-11.8L-72.5,-11L-72.4,-8.4L-72,-7L-70,-7L-67.8,-6.3L-67.5,-5.5L-67.8,-2L-70,-1.8L-69.5,-0.8L-70,0L-69.5,1L-70,4.2L-71,2.5L-73.5,1.3L-75.5,0L-77,-0.6L-78.9,-1.5L-79.5,-2L-78,-7.5Z"/>
<path id="c_VEN" d="M-72,-12.5L-71,-11.8L-72.5,-11L-72.4,-8.4L-72,-7L-70,-7L-67.8,-6.3L-67.5,-5.5L-67.8,-2L-66,-0.8L-64,-1.5L-63.5,-3.9L-62,-4.2L-60.7,-5L-61.4,-5.9L-60,-8.5L-59,-9L-60,-11L-69,-12.5Z"/>
<path id="c_GUY" d="M-61.4,-5.9L-60.7,-5L-60,-3L-59.8,-1.3L-58.5,-1.3L-57.3,-2L-56.5,-1.9L-58,-4L-57.2,-5.9L-58,-7L-60,-8.5Z"/>
<path id="c_SUR" d="M-57.2,-5.9L-58,-4L-56.5,-1.9L-54,-2.2L-54,-5.8Z"/>
<path id="c_GUF" d="M-54,-5.8L-54,-2.2L-52.5,-2.5L-51.5,-4.4L-53,-6Z"/>
<path id="c_ECU" d="M-81,1L-80.5,3.5L-80.3,4.3L-79,5L-78,3.5L-75.5,1.5L-75.5,0L-77,-0.6L-78.9,-1.5L-80,-1.5Z"/>
<path id="c_PER" d="M-81.5,4L-80.3,4.3L-79,5L-78,3.5L-75.5,1.5L-75.5,0L-73.5,1.3L-71,2.5L-70,4.2L-72.8,5.5L-73.5,7.3L-72.9,9L-70.6,9.5L-70.5,11L-69.5,11L-68.7,12.5L-69.4,14.5L-69,15.5L-69.4,17L-70.4,18.4L-75,16L-82,5Z"/>
<path id="c_BRA" d="M-73.5,7.3L-72.9,9L-70.6,9.5L-70.5,11L-69.5,11L-68.5,11L-66,9.8L-65.3,10.8L-65,12L-62,13.5L-60.5,13.8L-60.2,16.3L-58.4,16.3L-58,17.5L-57.7,20L-58.1,20.5L-56,22.2L-55.5,24L-54.6,25.6L-53.8,27.1L-57,30.2L-56,30.9L-53.5,33.7L-52,34L-30,30L-30,-5L-51.5,-4.4L-52.5,-2.5L-54,-2.2L-56.5,-1.9L-57.3,-2L-58.5,-1.3L-59.8,-1.3L-60,-3L-60.7,-5L-62,-4.2L-63.5,-3.9L-64,-1.5L-66,-0.8L-67.8,-2L-70,-1.8L-69.5,-0.8L-70,0L-69.5,1L-70,4.2L-72.8,5.5Z"/>
<path id="c_BOL" d="M-69.5,11L-68.5,11L-66,9.8L-65.3,10.8L-65,12L-62,13.5L-60.5,13.8L-60.2,16.3L-58.4,16.3L-58,17.5L-58.2,19.8L-61.8,20.5L-62.8,22.2L-65,22.1L-67,22.8L-68.2,21.5L-68.5,18.5L-69.4,17L-69,15.5L-69.4,14.5L-68.7,12.5Z"/>
<path id="c_PRY" d="M-58,19.5L-61.8,20.5L-62.8,22.2L-60.5,24L-58,26.5L-56,27.4L-54.6,25.6L-55.5,24L-56,22.2L-57.8,22Z"/>
<path id="c_URY" d="M-58.4,33.5L-57.6,30.2L-56,30.9L-53.5,33.7L-54,35L-58,35Z"/>
<path id="c_CHL" d="M-70.4,18.4L-69.4,17.5L-68.5,18.5L-68.2,21.5L-67,22.8L-68.5,24.5L-68.5,27L-69.8,30L-70,33L-70.5,36L-71,39.5L-71.8,42L-71.5,44L-71.8,46L-72.5,48.5L-73.5,50L-72,51.8L-68.5,52.5L-68.6,55L-67,55.5L-80,56L-80,18Z"/>
<path id="c_ARG" d="M-65,22.1L-67,22.8L-68.5,24.5L-68.5,27L-69.8,30L-70,33L-70.5,36L-71,39.5L-71.8,42L-71.5,44L-71.8,46L-72.5,48.5L-73.5,50L-72,51.8L-68.5,52.5L-68.6,55L-60,56L-50,40L-58,35L-58.4,33.5L-57.6,30.2L-53.8,27.1L-54.6,25.6L-56,27.4L-58.5,27.3L-58.5,25.5L-61,23.8L-62.8,22.2Z"/>
<path id="c_FLK" d="M-62,53L-57,53L-57,50L-62,50Z"/>
<path id="c_RUS" d="M27,-40L27,-86L195,-86L195,-40L135,-42L131,-42.5L134.5,-48.3L131,-47.7L127.5,-50L125.5,-53L122.5,-53.3L120,-52.5L119,-50.1L117.5,-49.8L116,-48.9L114,-50.2L110.5,-49.2L108,-49.6L106,-50.3L103,-50.2L102,-51.3L100,-51.7L98,-52L96.5,-49.8L94,-50.5L92,-50.8L90,-50.2L87.8,-49.2L85.7,-49.8L83.3,-51L80,-50.8L77.8,-53.3L76.5,-54L74.5,-53.6L73.4,-53.5L71,-54.2L69,-55.4L65.2,-54.4L62,-53.9L61,-53L60.5,-52.2L61,-52L61.3,-50.8L59.5,-50.6L58,-51L55.7,-50.6L52.3,-51.7L50.7,-51.6L48.7,-50.6L48,-50.5L46.5,-50.5L47,-49.2L46.5,-48.5L47.3,-47.7L48.5,-47.4L49,-46.5L47,-44L47.8,-41.9L46.5,-41.8L44,-42.8L42,-43.5L40,-43.4L38,-47L40.2,-49.6L38.2,-50L35.3,-51L34,-52.3L31.8,-52.1L32.7,-53.3L31,-54.2L30.8,-55.6L28.2,-56.2L27.7,-57.6L28.2,-59.5L27,-60L29.5,-61L31.5,-62.8L30,-64L29.5,-66L30,-67.5L28.5,-68L28.5,-69L29,-69.7L27,-70.5Z"/>
<path id="c_KGD" d="M19.6,-54.4L22.8,-54.4L21,-55.3Z"/>
<path id="c_NOR" d="M4,-58L7,-57.8L10.5,-58.8L11.5,-59L12,-60L12.5,-61.5L12,-63.5L14,-64.5L14.5,-66L16,-67.5L18,-68.5L20,-69L21,-69.2L22.5,-68.8L25,-69L26,-69.9L28.5,-69L29,-69.7L32,-70L31,-72L4,-72Z"/>
<path id="c_SWE" d="M11,-58.8L11.5,-59L12,-60L12.5,-61.5L12,-63.5L14,-64.5L14.5,-66L16,-67.5L18,-68.5L20,-69L21,-69.2L23.5,-68L24,-66L22,-65.5L19,-63L17,-61L19,-60L19.5,-57L16,-55.2L13,-55.2L12,-57Z"/>
<path id="c_FIN" d="M21,-69.2L22.5,-68.8L25,-69L26,-69.9L28.5,-69L28.5,-68L30,-67.5L29.5,-66L30,-64L31.5,-62.8L29,-61L27.8,-60.5L22,-59.5L20,-61L21.5,-63.5L25,-65L24,-66L23.5,-68Z"/>
<path id="c_DNK" d="M8,-54.9L11,-54.8L12.9,-54.8L12.9,-56.2L10.7,-57.8L8,-57Z"/>
<path id="c_EST" d="M21.5,-57.9L28,-57.5L28.2,-59.5L21.5,-59.5Z"/>
<path id="c_LVA" d="M20.5,-56L26.6,-55.7L28.2,-56.2L27.7,-57.6L25,-58L21.5,-57.9Z"/>
<path id="c_LTU" d="M21,-55.2L22.8,-54.4L23.5,-53.9L25.8,-54.2L26.6,-55.7L24,-56.4L20.5,-56.2Z"/>
<path id="c_BLR" d="M23.5,-53.9L23.5,-52L23.6,-51.5L25,-51.9L27,-51.7L30.5,-51.4L31.8,-52.1L32.7,-53.3L31,-54.2L30.8,-55.6L28.2,-56.2L26.6,-55.7L25.8,-54.2Z"/>
<path id="c_UKR" d="M22.2,-48.4L22.7,-49.6L24,-50.8L23.6,-51.5L25,-51.9L27,-51.7L30.5,-51.4L31.8,-52.1L34,-52.3L35.3,-51L38.2,-50L40.2,-49.6L39.8,-47.8L38.2,-47.1L35,-46L33.5,-44.2L32.5,-45.4L30.5,-46.5L29.5,-45.3L28.2,-45.5L28.9,-46.5L30,-48L27,-48.5L26.6,-48.3L24.9,-47.7L22.9,-48Z"/>
<path id="c_MDA" d="M26.6,-48.3L27,-48.5L30,-48L28.9,-46.5L28.2,-45.5L28,-46.5Z"/>
<path id="c_POL" d="M14.2,-53.9L19.6,-54.4L22.8,-54.4L23.5,-53.9L23.5,-52L23.6,-51.5L24,-50.8L22.7,-49.6L22.5,-49.1L19,-49.4L18.8,-49.5L17,-50.3L15,-51L14.6,-52.6Z"/>
<path id="c_DEU" d="M6,-53.5L8.7,-54L8.6,-55L10,-54.8L11,-54L14.2,-53.9L14.6,-52.6L15,-51L12,-50.3L13.8,-48.7L13,-47.5L10.5,-47.5L7.6,-47.6L8.2,-49L6.4,-49.5L6.1,-50.7L6,-51.8L7,-52.2L7.2,-53.2Z"/>
<path id="c_NLD" d="M3.4,-51.4L5.8,-50.8L6,-51.8L7,-52.2L7.2,-53.2L6,-53.7L4.5,-53.5Z"/>
<path id="c_BEL" d="M2.5,-51.1L3.4,-51.4L5.8,-50.8L6.1,-50.7L6.4,-49.5L5.8,-49.5L4.8,-50L4.1,-50.3Z"/>
<path id="c_FRA" d="M-6,-48.5L1.6,-51L2.5,-51.1L4.1,-50.3L4.8,-50L5.8,-49.5L6.4,-49.5L8.2,-49L7.6,-47.6L6,-46.2L7,-45.9L6.6,-45.1L7,-44.2L7.6,-43.8L3,-42.4L1.5,-42.6L-1.8,-43.3L-5,-44Z"/>
<path id="c_COR" d="M8.4,-41.2L9.8,-41.2L9.8,-43.2L8.4,-43.2Z"/>
<path id="c_ESP" d="M-9.8,-43.9L-1.8,-43.3L1.5,-42.6L3.5,-42.4L0,-38L-2,-36.5L-5.6,-35.9L-7.4,-37.2L-7.3,-38.5L-7,-39.7L-6.9,-41.9L-8.2,-42.1L-9.8,-42Z"/>
<path id="c_PRT" d="M-8.2,-42.1L-6.9,-41.9L-6.3,-41.5L-7,-39.7L-7.3,-38.5L-7.4,-37.2L-9.8,-36.5L-10,-42Z"/>
<path id="c_GBR" d="M-6.5,-49.8L2,-50.5L2,-59L-7,-59L-5.5,-55.3L-8.2,-54.6L-7.3,-54L-5.5,-54Z"/>
<path id="c_IRL" d="M-10.5,-51.3L-5.8,-52L-6,-54L-7.3,-54L-8.2,-54.6L-7.5,-55.4L-10.5,-55.4Z"/>
<path id="c_CHE" d="M6,-46.2L7.6,-47.6L9.5,-47.6L10.5,-46.9L10.1,-46.2L9,-45.8L7,-45.9Z"/>
<path id="c_AUT" d="M9.5,-47.6L10.5,-47.5L13,-47.5L13.8,-48.7L15,-49L17,-48.6L17.1,-47.7L16.5,-46.5L13.7,-46.5L12.2,-47L10.5,-46.9Z"/>
<path id="c_ITA" d="M6.6,-45.1L7,-45.9L9,-45.8L10.1,-46.2L10.5,-46.9L12.2,-47L13.7,-46.5L13.8,-45.6L19,-40L16,-37L10,-43.5L7.6,-43.8L7,-44.2Z"/>
<path id="c_SIC" d="M12,-36.5L15.7,-36.5L15.7,-38.35L12,-38.35Z"/>
<path id="c_SAR" d="M8,-38.7L10,-38.7L10,-41.3L8,-41.3Z"/>
<path id="c_CZE" d="M12,-50.3L15,-51L17,-50.3L18.8,-49.5L17,-48.6L15,-49L13.8,-48.7Z"/>
<path id="c_SVK" d="M17,-48.6L18.8,-49.5L19,-49.4L22.5,-49.1L22.2,-48.4L20.5,-48.5L18.8,-47.8L17.1,-47.7Z"/>
<path id="c_HUN" d="M16.1,-46.8L17.1,-47.7L18.8,-47.8L20.5,-48.5L22.2,-48.4L22.9,-48L21.5,-46.5L20.3,-46.1L18.8,-45.9L17.3,-45.9Z"/>
<path id="c_SVN" d="M13.6,-45.5L13.7,-46.5L16.1,-46.8L16.5,-46.5L15.5,-45.8L15.3,-45.4L13.8,-45.5Z"/>
<path id="c_HRV" d="M13.4,-45.1L13.6,-45.5L15.3,-45.4L15.5,-45.8L16.5,-46.5L17.3,-45.9L18.8,-45.9L19.3,-45.2L19,-44.9L16,-45.2L15.7,-44.7L16.5,-43.9L17.6,-43L18.5,-42.5L17.4,-42.9L16,-43.4L15,-44.2L14.4,-45.1Z"/>
<path id="c_BIH" d="M15.7,-44.7L16,-45.2L19,-44.9L19.6,-44L19,-43.5L18.5,-42.5L17.6,-43L16.5,-43.9Z"/>
<path id="c_SRB" d="M18.8,-45.9L20.3,-46.1L21.5,-45.2L22.7,-44.5L22.4,-44L23,-43.2L22.4,-42.3L21.7,-42.7L21,-42.6L20,-43L19.6,-44L19,-44.9L19.3,-45.2Z"/>
<path id="c_KOS" d="M20,-43L21,-42.6L21.7,-42.7L21.5,-42.2L20.6,-41.9L20.1,-42.5Z"/>
<path id="c_MNE" d="M18.5,-42.5L19,-43.5L19.6,-43.2L20.1,-42.5L19.4,-41.9Z"/>
<path id="c_ALB" d="M19.4,-41.9L20.1,-42.5L20.6,-41.9L20.9,-40.9L21,-40.1L20.2,-39.6L19.3,-40.4L19.5,-41.5Z"/>
<path id="c_MKD" d="M20.6,-41.9L21.5,-42.2L22.4,-42.3L23,-41.5L22.7,-41.1L21,-40.9L20.9,-40.9Z"/>
<path id="c_GRC" d="M20.2,-39.6L21,-40.1L20.9,-40.9L21,-40.9L22.7,-41.1L23,-41.5L24,-41.6L26,-41.7L26.6,-41.3L26.1,-40.6L28,-35L19,-36L19,-39.7Z"/>
<path id="c_BGR" d="M22.4,-42.3L23,-43.2L22.4,-44L22.7,-44.5L24,-43.8L25.5,-43.7L27,-44.1L28.6,-43.7L28,-42L27.5,-42L26.6,-41.3L26,-41.7L24,-41.6L23,-41.5Z"/>
<path id="c_ROU" d="M20.3,-46.1L21.5,-46.5L22.9,-48L24.9,-47.7L26.6,-48.3L28,-46.5L28.2,-45.5L29.7,-45.2L28.6,-43.7L27,-44.1L25.5,-43.7L24,-43.8L22.7,-44.5L21.5,-45.2Z"/>
<path id="c_TUR" d="M26,-40L26.6,-41.3L28,-42L29,-41.3L31.3,-41.2L33,-42L35,-42L36.2,-41.7L38,-41L40,-41L41.5,-41.6L42.8,-41.5L43.5,-41.1L43.7,-40.1L44.8,-39.7L44.3,-37.2L42.4,-37.1L40,-36.9L38,-36.8L36.6,-36.8L36,-35.8L35,-36L30,-35.5L25.5,-36.5Z"/>
<path id="c_CYP" d="M32,-34.4L35,-34.4L35,-35.9L32,-35.9Z"/>
<path id="c_GEO" d="M40,-43.4L42,-43.5L44,-42.8L46.5,-41.8L45,-41.2L43.5,-41.1L42.8,-41.5L41.5,-41.6Z"/>
<path id="c_ARM" d="M43.5,-41.1L45,-41.2L45.5,-40.5L46.5,-39L46,-38.8L44.8,-39.7L43.7,-40.1Z"/>
<path id="c_AZE" d="M45,-41.2L46.5,-41.8L48.5,-41.8L49.5,-40.3L49,-38.4L48,-38.4L46.5,-39L45.5,-40.5Z"/>
<path id="c_SYR" d="M36,-35.8L36.6,-36.8L38,-36.8L40,-36.9L42.4,-37.1L41.2,-34.4L38.8,-33.4L36.8,-32.3L35.8,-32.7L35.6,-33.9L36.6,-34.6L35.9,-34.6Z"/>
<path id="c_LBN" d="M35.1,-33.1L35.9,-34.6L36.6,-34.6L35.6,-33.3Z"/>
<path id="c_ISR" d="M34.2,-31.3L34.3,-31L34.9,-29.5L35.5,-31.5L35.6,-33.3L35.1,-33.1Z"/>
<path id="c_JOR" d="M34.9,-29.5L37,-29.2L38,-30.5L37,-31.5L39,-32.3L38.8,-33.4L36.8,-32.3L35.6,-32.7L35.5,-31.5Z"/>
<path id="c_IRQ" d="M38.8,-33.4L41.2,-34.4L42.4,-37.1L44.3,-37.2L45,-35.8L46,-35L45.5,-34L47.8,-31.5L48.5,-29.9L47.5,-29.5L46.5,-29.1L44.7,-29.2L42,-31.1L39,-32.3Z"/>
<path id="c_KWT" d="M46.5,-28.9L48,-28.9L49.5,-29.3L49.5,-31L47.8,-31L47,-30.4L46.5,-30Z"/>
<path id="c_SAU" d="M34.9,-29.5L37,-29.2L38,-30.5L37,-31.5L39,-32.3L42,-31.1L44.7,-29.2L46.5,-28.9L48,-28.9L49.5,-29.3L51,-26.5L50.75,-24.8L51.45,-24.5L51.6,-23L55.2,-22.7L55.7,-22L55,-20L52,-19L49,-18.5L47,-17L46.5,-17.4L44,-17.3L43.2,-16.7L42.8,-16.4L34,-27Z"/>
<path id="c_QAT" d="M50.75,-24.8L51.6,-24.8L51.6,-26.4L50.75,-26.4Z"/>
<path id="c_BHR" d="M50.3,-25.8L50.7,-25.8L50.7,-26.3L50.3,-26.3Z"/>
<path id="c_ARE" d="M51.45,-24.5L51.6,-23L55.2,-22.7L55.7,-22L56,-24L56.4,-24.9L56.3,-25.7L55.9,-26.2L54,-25.3Z"/>
<path id="c_OMN" d="M55.7,-22L55,-20L52,-19L53,-16.7L60,-22L59,-24L56.4,-24.9L56,-24Z"/>
<path id="c_OMN2" d="M55.95,-25.75L56.8,-25.75L56.8,-26.7L55.95,-26.7Z"/>
<path id="c_YEM" d="M42.8,-16.4L43.2,-16.7L44,-17.3L46.5,-17.4L47,-17L49,-18.5L52,-19L53,-16.7L52.2,-15.6L43.4,-12.6L42.5,-15Z"/>
<path id="c_IRN" d="M44.8,-39.7L46,-38.8L46.5,-39L48,-38.4L49,-38.4L50,-37.4L51.5,-36.8L53.9,-37.3L55.5,-38L57,-38.2L59.5,-37.5L61,-36.6L61.2,-35.5L60.5,-34L60.9,-33.5L60.6,-31.5L61.7,-31.4L61.8,-30.8L60.9,-29.9L63,-29.5L62.7,-28.3L63.3,-27.2L61.9,-26.2L61.6,-25.2L58.5,-25.4L57.3,-25.7L56.5,-26.9L54.8,-26.2L53,-26.6L51.5,-27.6L50.5,-29.2L49.5,-29.9L48.5,-29.9L47.8,-31.5L45.5,-34L46,-35L45,-35.8L44.3,-37.2Z"/>
<path id="c_KAZ" d="M46.5,-48.5L47,-49.2L46.5,-50.5L48,-50.5L48.7,-50.6L50.7,-51.6L52.3,-51.7L55.7,-50.6L58,-51L59.5,-50.6L61.3,-50.8L61,-52L60.5,-52.2L61,-53L62,-53.9L65.2,-54.4L69,-55.4L71,-54.2L73.4,-53.5L74.5,-53.6L76.5,-54L77.8,-53.3L80,-50.8L83.3,-51L85.7,-49.8L87.3,-49.2L85.5,-47.1L82.8,-47L82.5,-45.2L80.5,-44.8L80.2,-42.1L79,-42.8L75,-42.9L71,-42.8L70,-42.3L68.8,-40.7L68,-41L66.5,-42L66,-43L64,-43.7L62,-43.5L61,-44.3L58.5,-45.5L56,-45L56,-41.3L55,-41.3L53,-42.2L52.6,-42.8L51.3,-44.5L53,-45.3L53,-46.9L51.5,-47L49,-46.5L48.5,-47.4L47.3,-47.7Z"/>
<path id="c_UZB" d="M56,-45L58.5,-45.5L61,-44.3L62,-43.5L64,-43.7L66,-43L66.5,-42L68,-41L68.8,-40.7L70,-42.3L71,-42.8L73,-40.9L71,-40.2L70.5,-41L69,-40.1L68.5,-39L67.5,-37.2L66.5,-37.4L66.6,-38L64,-39.5L62,-40.6L60.5,-41.2L58.5,-42.7L56,-41.3Z"/>
<path id="c_TKM" d="M52.6,-42.8L52.9,-41.5L53.9,-40.6L53,-39.3L53.9,-37.3L55.5,-38L57,-38.2L59.5,-37.5L61,-36.6L61.2,-35.5L62.5,-35.3L64.5,-36.3L66.5,-37.4L66.6,-38L64,-39.5L62,-40.6L60.5,-41.2L58.5,-42.7L56,-41.3L55,-41.3L53,-42.2Z"/>
<path id="c_KGZ" d="M69.3,-40L70.5,-41L71,-40.2L73,-40.9L71,-42.8L75,-42.9L79,-42.8L80.2,-42.1L78,-41.3L76.5,-40.5L75,-40.5L73.5,-39.5L71,-39.5L69.5,-39.6Z"/>
<path id="c_TJK" d="M67.8,-37.1L69.3,-37.1L70.5,-38.4L71.3,-37.9L71.5,-37L74.9,-37.4L75,-38.5L73.5,-39.5L71,-39.5L69.5,-39.6L69.3,-40L70.5,-41L69,-40.1L68.5,-39L67.5,-37.2Z"/>
<path id="c_AFG" d="M61.2,-35.5L62.5,-35.3L64.5,-36.3L66.5,-37.4L67.8,-37.1L69.3,-37.1L70.5,-38.4L71.3,-37.9L71.5,-37L74.9,-37.4L71.5,-36.5L71.2,-35.2L70,-34L69.5,-33.9L70.3,-33.4L69.3,-31.9L68.6,-31.7L66.7,-31.2L66.3,-29.9L62.5,-29.4L60.9,-29.9L61.8,-30.8L61.7,-31.4L60.6,-31.5L60.9,-33.5L60.5,-34Z"/>
<path id="c_PAK" d="M60.9,-29.9L62.5,-29.4L66.3,-29.9L66.7,-31.2L68.6,-31.7L69.3,-31.9L70.3,-33.4L69.5,-33.9L70,-34L71.2,-35.2L71.5,-36.5L74.9,-37.1L77.8,-35.5L76,-34.5L74.5,-32.5L75.3,-32.2L74.6,-31L73.9,-30.4L71.9,-28L70.5,-28L69.5,-26.7L70.3,-25.5L71,-24.3L68.8,-24.2L67.5,-23.5L66.5,-24.5L61,-24.5L61.9,-26.2L63.3,-27.2L62.7,-28.3Z"/>
<path id="c_IND" d="M68.8,-24.2L71,-24.3L70.3,-25.5L69.5,-26.7L70.5,-28L71.9,-28L73.9,-30.4L74.6,-31L75.3,-32.2L74.5,-32.5L76,-34.5L77.8,-35.5L80,-35.5L78.5,-32.5L79,-31L80.5,-30.3L81,-30.2L80.1,-28.8L84,-27.3L88,-26.4L88.2,-27.8L88.8,-27.1L92,-26.8L92,-27.7L94,-28L96,-29.4L97.3,-28.2L96,-27L95,-26L94.5,-24.5L93.3,-24L92.7,-22.1L92.2,-23.7L91.7,-22.9L91.2,-23.7L92.3,-25L89.8,-25.9L88.1,-26.2L88.7,-24.3L89.1,-21.5L87,-20L78,-7L72,-15L70,-20L67.5,-23Z"/>
<path id="c_NPL" d="M80.1,-28.8L81,-30.2L84,-28.6L86,-28L88.2,-27.9L88,-26.4L84,-27.3Z"/>
<path id="c_BTN" d="M88.8,-27.1L88.9,-28L92,-27.9L92,-26.8Z"/>
<path id="c_BGD" d="M88.1,-26.2L89.8,-25.9L92.3,-25L91.2,-23.7L91.7,-22.9L92.2,-23.7L92.7,-22.1L92.3,-20.5L91,-21L89,-21.2L88.7,-24.3Z"/>
<path id="c_LKA" d="M79,-5.5L82.5,-5.5L82.5,-10L79,-10Z"/>
<path id="c_MMR" d="M92.2,-20.8L92.7,-22.1L93.3,-24L94.5,-24.5L95,-26L96,-27L97.3,-28.2L98.5,-27.5L98.7,-25.9L97.5,-24L98.9,-24.1L99.5,-22.1L101.1,-21.5L100,-20.3L98,-19L97.5,-17L98.6,-15.5L99,-13L98.5,-9.5L97,-10L96,-16L94,-15.5L93.5,-19.5Z"/>
<path id="c_THA" d="M98.6,-15.5L97.5,-17L98,-19L100,-20.3L100.5,-20.3L101.2,-19.6L100.9,-17.6L102,-17.9L103,-18.4L104.8,-17.4L105.5,-15.5L105.2,-14.3L102.6,-14.2L102.5,-12.2L101,-12.7L100,-13.4L99.2,-10L100.3,-8.3L100.5,-7.2L101.3,-6.8L102,-6.2L100.5,-6.4L99.7,-6.8L98.5,-8.2L98.3,-9.5L98.6,-11L99.2,-12.5Z"/>
<path id="c_LAO" d="M100.1,-20.4L101.2,-21.4L102.1,-22.4L102.7,-21.7L103.3,-20.8L104.6,-20.6L104.1,-19.7L105,-18.8L106.5,-17L107.6,-15.4L107.5,-14.4L105.9,-13.9L105.5,-15.5L104.8,-17.4L103,-18.4L102,-17.9L100.9,-17.6L101.2,-19.6L100.5,-20.3Z"/>
<path id="c_KHM" d="M102.6,-14.2L105.2,-14.3L105.9,-13.9L107.5,-14.4L107.6,-13.5L106,-11L105,-10.5L104.5,-10.4L103,-11L102.5,-12.2Z"/>
<path id="c_VNM" d="M102.1,-22.4L103.5,-22.7L105.3,-23.3L106.7,-22.8L108,-21.6L110,-20L110,-8L104,-8L104.5,-10.4L105,-10.5L106,-11L107.6,-13.5L107.5,-14.4L107.6,-15.4L106.5,-17L105,-18.8L104.1,-19.7L104.6,-20.6L103.3,-20.8L102.7,-21.7Z"/>
<path id="c_MYS" d="M100,-6.45L101.3,-6.8L102,-6.2L103.5,-4.8L104.8,-1.3L103,-1.2L100,-5Z"/>
<path id="c_MYS2" d="M109.5,-1.3L111,-1L113,-1.5L115,-4L115.5,-4.8L116,-4.3L117.8,-4.2L119.5,-5.3L116.8,-7.5L114,-5L109.5,-2.5Z"/>
<path id="c_IDN" d="M94,-6L106,2L106,9L94,6Z"/>
<path id="c_IDN2" d="M105,5.5L116,7.5L116,9.2L105,9.2Z"/>
<path id="c_IDN3" d="M108.5,-1.3L111,-1L113,-1.5L115,-4L115.5,-4.8L116,-4.3L117.8,-4.2L120,-4L120,5L108.5,5Z"/>
<path id="c_IDN4" d="M118.5,6L127,6L127,-2.5L118.5,-2.5Z"/>
<path id="c_IDN5" d="M116,7.8L125,7.8L125,11L116,11Z"/>
<path id="c_IDN6" d="M125,2L141,2L141,9.5L125,9.5Z"/>
<path id="c_IDN7" d="M127,4L141,4L141,-3L127,-3Z"/>
<path id="c_TLS" d="M124.5,8L127.5,8L127.5,9.7L124.5,9.7Z"/>
<path id="c_PNG" d="M141,0.5L156,0.5L156,12L141,12Z"/>
<path id="c_SLB" d="M156,5L163,5L163,12L156,12Z"/>
<path id="c_PHL" d="M116.5,-8L119.5,-6.5L121,-4.5L127,-4.5L127,-19L116,-19L116,-8Z"/>
<path id="c_CHN" d="M73.5,-39.5L75,-40.5L76.5,-40.5L78,-41.3L80.2,-42.1L80.5,-44.8L82.5,-45.2L82.8,-47L85.5,-47.1L87.3,-49.2L88,-48.6L90.5,-47.5L91,-46L93,-45L95.5,-44.3L97,-42.8L100,-42.6L105,-41.6L110,-42.6L112,-43.7L114,-44.8L116,-45.6L117.6,-46.6L119.7,-47.1L116,-48.9L117.5,-49.8L119,-50.1L120,-52.5L122.5,-53.3L125.5,-53L127.5,-50L131,-47.7L134.5,-48.3L133,-45L131,-44.8L130.5,-42.5L129,-42.1L128,-41.6L126.7,-41.8L124.3,-39.8L121,-38.3L123,-37.6L123,-30L118,-23L112,-21L108,-21.6L106.7,-22.8L105.3,-23.3L103.5,-22.7L102.1,-22.4L101.2,-21.4L100.1,-21.5L99.5,-22.1L98.9,-24.1L97.5,-24L98.7,-25.9L98.5,-27.5L97.3,-28.2L96,-29.4L94,-28L92,-27.7L92,-27.9L88.9,-28L88.2,-27.9L86,-28L84,-28.6L81,-30.2L80.5,-30.3L79,-31L78.5,-32.5L80,-35.5L77.8,-35.5L74.9,-37.1L74.9,-37.4L75,-38.5Z"/>
<path id="c_HAI" d="M108,-17.8L111.5,-17.8L111.5,-20.5L108,-20.5Z"/>
<path id="c_TWN" d="M119.5,-21.5L122.5,-21.5L122.5,-25.8L119.5,-25.8Z"/>
<path id="c_MNG" d="M87.8,-49.2L90,-50.2L92,-50.8L94,-50.5L96.5,-49.8L98,-52L100,-51.7L102,-51.3L103,-50.2L106,-50.3L108,-49.6L110.5,-49.2L114,-50.2L116.5,-49.8L116,-48.9L119.7,-47.1L117.6,-46.6L116,-45.6L114,-44.8L112,-43.7L110,-42.6L105,-41.6L100,-42.6L97,-42.8L95.5,-44.3L93,-45L91,-46L90.5,-47.5L88,-48.6Z"/>
<path id="c_PRK" d="M124,-39.5L124.3,-40L126.7,-41.8L128,-41.6L129,-42.1L130.7,-42.5L131,-41L128,-39.3L128.3,-38.6L126.5,-37.8L125,-37.6Z"/>
<path id="c_KOR" d="M126.5,-37.8L128.3,-38.6L130,-38L130,-34L125.5,-34L125.5,-37.5Z"/>
<path id="c_JPN" d="M129,-30.5L146,-30.5L146,-46L139.5,-46L139.5,-41L129,-35Z"/>
<path id="c_MAR" d="M-13.2,-27.7L-8.7,-27.7L-8.7,-28.7L-5,-30L-3.6,-30.9L-1.2,-32.1L-1.7,-34.9L-2,-35.3L-5.9,-36L-10,-33L-13,-28Z"/>
<path id="c_ESH" d="M-17.5,-21L-13,-21L-13,-23L-12,-23.5L-12,-26L-8.7,-26L-8.7,-27.7L-13.2,-27.7L-14.5,-26L-16,-23.5Z"/>
<path id="c_DZA" d="M-8.7,-27.7L-8.7,-26L-4.8,-25L1.2,-20.8L3.3,-19L5.8,-19.4L7.5,-20.8L11.5,-23.5L9.5,-26.4L10,-30L9.5,-30.2L7.5,-33.3L8.3,-34.6L8.4,-37.2L-1.7,-35.4L-1.2,-32.1L-3.6,-30.9L-5,-30L-8.7,-28.7Z"/>
<path id="c_TUN" d="M8.4,-37.2L8.3,-34.6L7.5,-33.3L9.5,-30.2L10,-30L10.3,-31.6L11.5,-33.1L11.5,-37.5L9.8,-37.5Z"/>
<path id="c_LBY" d="M9.5,-30.2L10,-30L9.5,-26.4L11.5,-23.5L14,-22.5L15,-23L19,-21.5L24,-20L25,-20L25,-21.9L25,-31.7L25,-33L20,-33L11.5,-33.1L10.3,-31.6Z"/>
<path id="c_EGY" d="M25,-21.9L37,-22L35,-28L34.9,-29.5L34.3,-31.3L25,-32Z"/>
<path id="c_MRT" d="M-17.2,-21L-13,-21L-13,-23L-12,-23.5L-12,-26L-8.7,-26L-4.8,-25L-6.5,-25L-5.5,-16.5L-5.3,-15.5L-11.5,-15.5L-12.3,-14.7L-14,-16.6L-16.5,-16.2L-16.2,-19.5Z"/>
<path id="c_MLI" d="M-12.3,-14.7L-11.5,-15.5L-5.3,-15.5L-5.5,-16.5L-6.5,-25L-4.8,-25L1.2,-20.8L3.3,-19L4.2,-19.1L4.2,-16.8L3.5,-15.4L0.3,-14.9L-0.5,-15.1L-2,-14.5L-3.5,-13.4L-4.3,-12.8L-5.5,-10.4L-6.2,-10.5L-7.5,-10.2L-8.2,-11L-8.5,-11.7L-9.4,-12.3L-11.4,-12.4L-12.2,-12.8Z"/>
<path id="c_NER" d="M0.3,-14.9L3.5,-15.4L4.2,-16.8L4.2,-19.1L5.8,-19.4L7.5,-20.8L11.5,-23.5L14,-22.5L15.5,-20.5L15.5,-18L13.5,-14L13.6,-13.3L12.5,-13.1L10.7,-13.3L8.5,-13L6.8,-13.1L4,-13.5L3.6,-11.7L2.4,-12.2L1,-12.8L0.9,-13.5Z"/>
<path id="c_TCD" d="M14,-22.5L15,-23L19,-21.5L24,-20L24,-15.5L22.4,-14L22.8,-11.3L21.5,-9.5L18.9,-8.6L17,-7.5L15.5,-7.5L14.5,-9.9L15.2,-10.5L14.5,-12.3L13.6,-13.3L13.5,-14L15.5,-18L15.5,-20.5Z"/>
<path id="c_SDN" d="M24,-20L25,-20L25,-21.9L37,-22L38.5,-18L37,-17.2L36.5,-14.3L36.1,-12.7L35,-10.7L34.3,-10.6L33.5,-9.5L32.8,-12.2L29.8,-10.3L27,-9.6L24,-8.6L23.5,-10.5L22.8,-11.3L22.4,-14L24,-15.5Z"/>
<path id="c_SSD" d="M24,-8.6L27,-9.6L29.8,-10.3L32.8,-12.2L33.5,-9.5L34.3,-10.6L33.9,-8.2L35.2,-5.4L33.5,-3.8L31,-3.7L30.5,-3.6L27.5,-5L25.5,-5.3L23.4,-4.7Z"/>
<path id="c_ERI" d="M36.5,-14.3L37,-17.2L38.5,-18L39.7,-15.1L41.7,-13.2L43.2,-12.5L42.4,-12.5L40,-14.5L37.5,-14.3Z"/>
<path id="c_ETH" d="M36.1,-12.7L36.5,-14.3L37.5,-14.3L40,-14.5L42.4,-12.5L41.8,-11L43,-11L44,-9L46,-8L47.9,-8L45,-5L42,-4L41,-3.9L38.5,-3.6L35.9,-4.6L35.2,-5.4L33.9,-8.2L34.3,-10.6L35,-10.7Z"/>
<path id="c_DJI" d="M41.8,-11L42.4,-12.5L43.3,-12.5L43.2,-11.6L42.8,-10.9Z"/>
<path id="c_SOM" d="M43,-11L44,-9L46,-8L47.9,-8L45,-5L42,-4L41,-3.9L41,1.7L42,1L46,-2L48,-4.5L50,-8L51.1,-10.4L51.5,-12L47,-11.5L44.5,-10.6L43.2,-11.6L42.8,-10.9Z"/>
<path id="c_KEN" d="M41,-3.9L38.5,-3.6L35.9,-4.6L35.2,-5.4L33.5,-3.8L34.1,-1L34,1L37.7,3.1L39.2,4.7L41,1.7Z"/>
<path id="c_UGA" d="M30.5,-3.6L31,-3.7L33.5,-3.8L34.1,-1L34,1L30.5,1.1L29.6,1.4L29.6,-0.5L30,-1.5L31.3,-2.2Z"/>
<path id="c_RWA" d="M29,2.8L29.6,1.4L30.5,1.1L30.9,2.4L30.5,2.8Z"/>
<path id="c_BDI" d="M29,2.8L30.5,2.8L30.8,3.3L29.7,4.5L29.2,4.3Z"/>
<path id="c_TZA" d="M30.5,1.1L34,1L37.7,3.1L39.2,4.7L39.3,6.8L39.8,10L40.5,10.8L37.5,11.6L35,11.5L34.5,9.5L32.9,9.4L31,8.5L30.5,7.5L29.5,6L29.7,4.5L30.8,3.3L30.5,2.8L30.9,2.4Z"/>
<path id="c_NGA" d="M2.7,-6.4L2.8,-9L3.6,-11.7L4,-13.5L6.8,-13.1L8.5,-13L10.7,-13.3L12.5,-13.1L13.6,-13.3L14.5,-12.3L13.3,-10L12,-7.5L11,-6.5L9.5,-6.5L8.5,-4.5L6,-4.2L5,-5.5L4,-6.4Z"/>
<path id="c_CMR" d="M8.5,-4.5L9.5,-6.5L11,-6.5L12,-7.5L13.3,-10L14.5,-12.3L15.2,-10.5L14.5,-9.9L15.5,-7.5L14.6,-5.5L14.5,-4.5L16,-2.2L13.3,-2.2L11.3,-2.2L9.8,-2.3L9.5,-4Z"/>
<path id="c_CAF" d="M14.5,-4.5L14.6,-5.5L15.5,-7.5L17,-7.5L18.9,-8.6L21.5,-9.5L22.8,-11.3L23.5,-10.5L24,-8.6L23.4,-4.7L22.4,-4.1L20.5,-4.3L18.6,-3.5L16.6,-3.5L16,-2.2Z"/>
<path id="c_GNQ" d="M9.5,-2.3L11.3,-2.2L11.3,-1L9.2,-1Z"/>
<path id="c_GAB" d="M9.2,-1L11.3,-1L11.3,-2.2L13.3,-2.2L13,-1.3L14.5,0.5L14,2L12.5,2.2L11.5,3L11,4L8.5,1Z"/>
<path id="c_COG" d="M13.3,-2.2L16,-2.2L16.6,-3.5L18.6,-3.5L17.7,0.3L16.2,2.2L15.5,4.5L13.5,4.5L12.5,5L11,4L11.5,3L12.5,2.2L14,2L14.5,0.5L13,-1.3Z"/>
<path id="c_COD" d="M18.6,-3.5L20.5,-4.3L22.4,-4.1L23.4,-4.7L25.5,-5.3L27.5,-5L30.5,-3.6L31.3,-2.2L30,-1.5L29.6,-0.5L29.6,1.4L29,2.8L29.2,4.3L29.5,6L30.5,7.5L30.8,8.3L28.8,8.5L28.5,10.3L28.5,11.6L29.6,12.5L29.5,13.3L27.5,12.3L25.5,11.5L24,11L22.2,11L21.8,7.3L19.5,7L19,8L17.5,8L16.3,5.9L12,6L12.3,5.1L13.5,4.5L15.5,4.5L16.2,2.2L17.7,0.3Z"/>
<path id="c_AGO" d="M11,6L16.3,5.9L17.5,8L19,8L19.5,7L21.8,7.3L22.2,11L24,11L24,13L22,13L22,16.2L23.5,17.8L21,18.2L13.5,17.3L11,17.3L11,14Z"/>
<path id="c_ZMB" d="M22,13L24,13L24,11L25.5,11.5L27.5,12.3L29.5,13.3L29.6,12.5L28.5,11.6L28.5,10.3L28.8,8.5L30.8,8.3L32.9,9.4L33.3,10.5L33.7,14L30.2,15.4L28.8,16.8L27,17.9L25.3,17.8L23.5,17.8L22,16.2Z"/>
<path id="c_MWI" d="M32.9,9.4L34.5,9.5L35,11.5L35.9,14.8L35.3,17L34.4,16L34.5,14.5L33.7,14L33.3,10.5Z"/>
<path id="c_MOZ" d="M35,11.5L37.5,11.6L41,10.5L41,15L36,26L32.9,26.5L32.8,26.8L32,26L31.3,22.4L32.5,21L32.9,18.5L32.7,16.5L30.4,16L30.2,15.4L33.7,14L34.5,14.5L34.4,16L35.3,17L35.9,14.8Z"/>
<path id="c_ZWE" d="M25.3,17.8L27,17.9L28.8,16.8L30.2,15.4L30.4,16L32.7,16.5L32.9,18.5L32.5,21L31.3,22.4L29.4,22.2L28,21.5L26.2,19.6Z"/>
<path id="c_NAM" d="M11,17.3L13.5,17.3L21,18.2L23.5,17.8L25.3,17.8L24.5,18L21,18.5L21,22L20,22L20,28.4L16.5,28.6L14,28L11,20Z"/>
<path id="c_BWA" d="M20,22L21,22L21,18.5L24.5,18L25.3,17.8L26.2,19.6L28,21.5L29.4,22.2L27,24L26,24.7L25.5,25.7L23,25.3L20.8,26.8L20,24.8Z"/>
<path id="c_ZAF" d="M16.5,28.6L20,28.4L20,24.8L20.8,26.8L23,25.3L25.5,25.7L26,24.7L27,24L29.4,22.2L31.3,22.4L32,26L32.8,26.8L33,28L31,30.5L28,33.5L20,35.5L17,33L15.5,29Z"/>
<path id="c_LSO" d="M27,29.5L28.5,28.6L29.4,29.2L29.1,30.2L28,30.6L27,29.8Z"/>
<path id="c_SWZ" d="M30.8,25.8L32,26L32,27.2L31,27.2Z"/>
<path id="c_SEN" d="M-17.5,-14.7L-16.5,-16.3L-14,-16.6L-12.3,-14.7L-12.2,-12.8L-11.4,-12.4L-13.7,-12.6L-16.9,-12.4Z"/>
<path id="c_GMB" d="M-16.9,-13.1L-13.8,-13.3L-13.8,-13.7L-16.9,-13.7Z"/>
<path id="c_GNB" d="M-16.9,-12.4L-13.7,-12.6L-13.7,-11.7L-15,-10.8L-16.8,-11.2Z"/>
<path id="c_GIN" d="M-13.7,-12.6L-11.4,-12.4L-9.4,-12.3L-8.5,-11.7L-8.2,-11L-7.5,-10.2L-8,-8.6L-8.5,-7.6L-9.5,-8.5L-10.5,-8.3L-10.5,-9.3L-12,-9.9L-13.3,-9.1L-15,-10.8L-13.7,-11.7Z"/>
<path id="c_SLE" d="M-13.3,-9.1L-12,-9.9L-10.5,-9.3L-10.5,-8.3L-11.5,-6.8L-13.5,-7.5Z"/>
<path id="c_LBR" d="M-11.5,-6.8L-10.5,-8.3L-9.5,-8.5L-8.5,-7.6L-8.3,-6.5L-7.5,-5.5L-7.5,-4.2L-9,-4.8Z"/>
<path id="c_CIV" d="M-8.5,-7.6L-8,-8.6L-7.5,-10.2L-6.2,-10.5L-5.5,-10.4L-4.7,-9.7L-2.7,-9.5L-3,-8L-2.5,-6.5L-3,-5L-7.5,-4.2L-7.5,-5.5L-8.3,-6.5Z"/>
<path id="c_BFA" d="M-5.5,-10.4L-4.3,-12.8L-3.5,-13.4L-2,-14.5L-0.5,-15.1L0.3,-14.9L0.9,-13.5L1,-12.8L2.4,-12.2L2,-11.4L0.9,-11L-0.5,-11L-2.8,-11L-2.7,-9.5L-4.7,-9.7Z"/>
<path id="c_GHA" d="M-2.7,-9.5L-2.8,-11L-0.5,-11L0,-10.5L0.6,-8L1.2,-6.1L1.2,-5L-3,-4.5L-3,-5L-2.5,-6.5L-3,-8Z"/>
<path id="c_TGO" d="M0,-10.5L-0.5,-11L0.9,-11L1.6,-9L1.8,-6.2L1.8,-5.5L1.2,-5.5L1.2,-6.1L0.6,-8Z"/>
<path id="c_BEN" d="M0.9,-11L2,-11.4L2.4,-12.2L3.6,-11.7L2.8,-9L2.7,-6.4L2.7,-5.5L1.8,-5.5L1.8,-6.2L1.6,-9Z"/>
<path id="c_MDG" d="M42,27L52,27L52,11L42,11Z"/>
<path id="c_AUS" d="M112,10.5L142.7,10.5L145,13L156,20L156,45L110,45L110,20Z"/>
<path id="c_NZL" d="M165,48L180,48L180,33L165,33Z"/>
<path id="c_SJM" d="M5,-76L34,-76L34,-81.5L5,-81.5Z"/>
<g id="mapA"><g clip-path="url(#lc)">
<use href="#land" fill="#f29443"/>
<use href="#c_CAN" fill="#f44b27" stroke="#505050" style="stroke-width:var(--sw)"/>
<use href="#c_USA" fill="#f35e2e" stroke="#505050" style="stroke-width:var(--sw)"/>
<use href="#c_ALA" fill="#f45129" stroke="#505050" style="stroke-width:var(--sw)"/>
<use href="#c_MEX" fill="#e6c261" stroke="#505050" style="stroke-width:var(--sw)"/>
<use href="#c_GTM" fill="#eabf5c" stroke="#505050" style="stroke-width:var(--sw)"/>
<use href="#c_BLZ" fill="#edbe5a" stroke="#505050" style="stroke-width:var(--sw)"/>
<use href="#c_SLV" fill="#eabf5c" stroke="#505050" style="stroke-width:var(--sw)"/>
<use href="#c_HND" fill="#e6c261" stroke="#505050" style="stroke-width:var(--sw)"/>
<use href="#c_NIC" fill="#eabf5c" stroke="#505050" style="stroke-width:var(--sw)"/>
<use href="#c_CRI" fill="#efbd58" stroke="#505050" style="stroke-width:var(--sw)"/>
<use href="#c_PAN" fill="#edbe5a" stroke="#505050" style="stroke-width:var(--sw)"/>
<use href="#c_CUB" fill="#f36932" stroke="#505050" style="stroke-width:var(--sw)"/>
<use href="#c_HTI" fill="#f36e34" stroke="#505050" style="stroke-width:var(--sw)"/>
<use href="#c_DOM" fill="#f37436" stroke="#505050" style="stroke-width:var(--sw)"/>
<use href="#c_JAM" fill="#f27937" stroke="#505050" style="stroke-width:var(--sw)"/>
<use href="#c_PRI" fill="#f37436" stroke="#505050" style="stroke-width:var(--sw)"/>
<use href="#c_BHS" fill="#f27937" stroke="#505050" style="stroke-width:var(--sw)"/>
<use href="#c_GRL" fill="#f44b27" stroke="#505050" style="stroke-width:var(--sw)"/>
<use href="#c_ISL" fill="#f0b152" stroke="#505050" style="stroke-width:var(--sw)"/>
<use href="#c_COL" fill="#f0ab4f" stroke="#505050" style="stroke-width:var(--sw)"/>
<use href="#c_VEN" fill="#f29443" stroke="#505050" style="stroke-width:var(--sw)"/>
<use href="#c_GUY" fill="#f27937" stroke="#505050" style="stroke-width:var(--sw)"/>
<use href="#c_SUR" fill="#f27937" stroke="#505050" style="stroke-width:var(--sw)"/>
<use href="#c_GUF" fill="#f2833b" stroke="#505050" style="stroke-width:var(--sw)"/>
<use href="#c_ECU" fill="#f28e40" stroke="#505050" style="stroke-width:var(--sw)"/>
<use href="#c_PER" fill="#f27e39" stroke="#505050" style="stroke-width:var(--sw)"/>
<use href="#c_BRA" fill="#f28e40" stroke="#505050" style="stroke-width:var(--sw)"/>
<use href="#c_BOL" fill="#f28e40" stroke="#505050" style="stroke-width:var(--sw)"/>
<use href="#c_PRY" fill="#f19a46" stroke="#505050" style="stroke-width:var(--sw)"/>
<use href="#c_URY" fill="#f36e34" stroke="#505050" style="stroke-width:var(--sw)"/>
<use href="#c_CHL" fill="#f2893d" stroke="#505050" style="stroke-width:var(--sw)"/>
<use href="#c_ARG" fill="#f29443" stroke="#505050" style="stroke-width:var(--sw)"/>
<use href="#c_FLK" fill="#f29443" stroke="#505050" style="stroke-width:var(--sw)"/>
<use href="#c_RUS" fill="#f27937" stroke="#505050" style="stroke-width:var(--sw)"/>
<use href="#c_KGD" fill="#f27937" stroke="#505050" style="stroke-width:var(--sw)"/>
<use href="#c_NOR" fill="#f28e40" stroke="#505050" style="stroke-width:var(--sw)"/>
<use href="#c_SWE" fill="#f37436" stroke="#505050" style="stroke-width:var(--sw)"/>
<use href="#c_FIN" fill="#e6c261" stroke="#505050" style="stroke-width:var(--sw)"/>
<use href="#c_DNK" fill="#c2c280" stroke="#505050" style="stroke-width:var(--sw)"/>
<use href="#c_EST" fill="#f37436" stroke="#505050" style="stroke-width:var(--sw)"/>
<use href="#c_LVA" fill="#f37436" stroke="#505050" style="stroke-width:var(--sw)"/>
<use href="#c_LTU" fill="#f37436" stroke="#505050" style="stroke-width:var(--sw)"/>
<use href="#c_BLR" fill="#f36932" stroke="#505050" style="stroke-width:var(--sw)"/>
<use href="#c_UKR" fill="#f36430" stroke="#505050" style="stroke-width:var(--sw)"/>
<use href="#c_MDA" fill="#f35e2e" stroke="#505050" style="stroke-width:var(--sw)"/>
<use href="#c_POL" fill="#f36e34" stroke="#505050" style="stroke-width:var(--sw)"/>
<use href="#c_DEU" fill="#e1c466" stroke="#505050" style="stroke-width:var(--sw)"/>
<use href="#c_NLD" fill="#e1c466" stroke="#505050" style="stroke-width:var(--sw)"/>
<use href="#c_BEL" fill="#e6c261" stroke="#505050" style="stroke-width:var(--sw)"/>
<use href="#c_FRA" fill="#e6c261" stroke="#505050" style="stroke-width:var(--sw)"/>
<use href="#c_COR" fill="#e6c261" stroke="#505050" style="stroke-width:var(--sw)"/>
<use href="#c_ESP" fill="#f29443" stroke="#505050" style="stroke-width:var(--sw)"/>
<use href="#c_PRT" fill="#f28e40" stroke="#505050" style="stroke-width:var(--sw)"/>
<use href="#c_GBR" fill="#edbe5a" stroke="#505050" style="stroke-width:var(--sw)"/>
<use href="#c_IRL" fill="#e6c261" stroke="#505050" style="stroke-width:var(--sw)"/>
<use href="#c_CHE" fill="#edbe5a" stroke="#505050" style="stroke-width:var(--sw)"/>
<use href="#c_AUT" fill="#f35e2e" stroke="#505050" style="stroke-width:var(--sw)"/>
<use href="#c_ITA" fill="#f29443" stroke="#505050" style="stroke-width:var(--sw)"/>
<use href="#c_SIC" fill="#f29443" stroke="#505050" style="stroke-width:var(--sw)"/>
<use href="#c_SAR" fill="#f29443" stroke="#505050" style="stroke-width:var(--sw)"/>
<use href="#c_CZE" fill="#f3572b" stroke="#505050" style="stroke-width:var(--sw)"/>
<use href="#c_SVK" fill="#f45129" stroke="#505050" style="stroke-width:var(--sw)"/>
<use href="#c_HUN" fill="#f44424" stroke="#505050" style="stroke-width:var(--sw)"/>
<use href="#c_SVN" fill="#f27937" stroke="#505050" style="stroke-width:var(--sw)"/>
<use href="#c_HRV" fill="#f35e2e" stroke="#505050" style="stroke-width:var(--sw)"/>
<use href="#c_BIH" fill="#f35e2e" stroke="#505050" style="stroke-width:var(--sw)"/>
<use href="#c_SRB" fill="#f52c1c" stroke="#505050" style="stroke-width:var(--sw)"/>
<use href="#c_KOS" fill="#d3d3d3" stroke="#505050" style="stroke-width:var(--sw)"/>
<use href="#c_MNE" fill="#f35e2e" stroke="#505050" style="stroke-width:var(--sw)"/>
<use href="#c_ALB" fill="#f28e40" stroke="#505050" style="stroke-width:var(--sw)"/>
<use href="#c_MKD" fill="#f35e2e" stroke="#505050" style="stroke-width:var(--sw)"/>
<use href="#c_GRC" fill="#f27e39" stroke="#505050" style="stroke-width:var(--sw)"/>
<use href="#c_BGR" fill="#f35e2e" stroke="#505050" style="stroke-width:var(--sw)"/>
<use href="#c_ROU" fill="#f35e2e" stroke="#505050" style="stroke-width:var(--sw)"/>
<use href="#c_TUR" fill="#f43e22" stroke="#505050" style="stroke-width:var(--sw)"/>
<use href="#c_CYP" fill="#f27937" stroke="#505050" style="stroke-width:var(--sw)"/>
<use href="#c_GEO" fill="#f27937" stroke="#505050" style="stroke-width:var(--sw)"/>
<use href="#c_ARM" fill="#f37436" stroke="#505050" style="stroke-width:var(--sw)"/>
<use href="#c_AZE" fill="#f27937" stroke="#505050" style="stroke-width:var(--sw)"/>
<use href="#c_SYR" fill="#f29443" stroke="#505050" style="stroke-width:var(--sw)"/>
<use href="#c_LBN" fill="#f29443" stroke="#505050" style="stroke-width:var(--sw)"/>
<use href="#c_ISR" fill="#f28e40" stroke="#505050" style="stroke-width:var(--sw)"/>
<use href="#c_JOR" fill="#f29443" stroke="#505050" style="stroke-width:var(--sw)"/>
<use href="#c_IRQ" fill="#f29443" stroke="#505050" style="stroke-width:var(--sw)"/>
<use href="#c_KWT" fill="#f29443" stroke="#505050" style="stroke-width:var(--sw)"/>
<use href="#c_SAU" fill="#edbe5a" stroke="#505050" style="stroke-width:var(--sw)"/>
<use href="#c_QAT" fill="#f29443" stroke="#505050" style="stroke-width:var(--sw)"/>
<use href="#c_BHR" fill="#f29443" stroke="#505050" style="stroke-width:var(--sw)"/>
<use href="#c_ARE" fill="#f28e40" stroke="#505050" style="stroke-width:var(--sw)"/>
<use href="#c_OMN" fill="#f2893d" stroke="#505050" style="stroke-width:var(--sw)"/>
<use href="#c_OMN2" fill="#f2893d" stroke="#505050" style="stroke-width:var(--sw)"/>
<use href="#c_YEM" fill="#efbd58" stroke="#505050" style="stroke-width:var(--sw)"/>
<use href="#c_IRN" fill="#f28e40" stroke="#505050" style="stroke-width:var(--sw)"/>
<use href="#c_KAZ" fill="#f27e39" stroke="#505050" style="stroke-width:var(--sw)"/>
<use href="#c_UZB" fill="#f2833b" stroke="#505050" style="stroke-width:var(--sw)"/>
<use href="#c_TKM" fill="#f2893d" stroke="#505050" style="stroke-width:var(--sw)"/>
<use href="#c_KGZ" fill="#f27e39" stroke="#505050" style="stroke-width:var(--sw)"/>
<use href="#c_TJK" fill="#f2833b" stroke="#505050" style="stroke-width:var(--sw)"/>
<use href="#c_AFG" fill="#f2833b" stroke="#505050" style="stroke-width:var(--sw)"/>
<use href="#c_PAK" fill="#f36e34" stroke="#505050" style="stroke-width:var(--sw)"/>
<use href="#c_IND" fill="#f19a46" stroke="#505050" style="stroke-width:var(--sw)"/>
<use href="#c_NPL" fill="#f28e40" stroke="#505050" style="stroke-width:var(--sw)"/>
<use href="#c_BTN" fill="#f29443" stroke="#505050" style="stroke-width:var(--sw)"/>
<use href="#c_BGD" fill="#f43a20" stroke="#505050" style="stroke-width:var(--sw)"/>
<use href="#c_LKA" fill="#f29443" stroke="#505050" style="stroke-width:var(--sw)"/>
<use href="#c_MMR" fill="#f28e40" stroke="#505050" style="stroke-width:var(--sw)"/>
<use href="#c_THA" fill="#f28e40" stroke="#505050" style="stroke-width:var(--sw)"/>
<use href="#c_LAO" fill="#f2893d" stroke="#505050" style="stroke-width:var(--sw)"/>
<use href="#c_KHM" fill="#f28e40" stroke="#505050" style="stroke-width:var(--sw)"/>
<use href="#c_VNM" fill="#f28e40" stroke="#505050" style="stroke-width:var(--sw)"/>
<use href="#c_MYS" fill="#f29443" stroke="#505050" style="stroke-width:var(--sw)"/>
<use href="#c_MYS2" fill="#f29443" stroke="#505050" style="stroke-width:var(--sw)"/>
<use href="#c_IDN" fill="#f4331e" stroke="#505050" style="stroke-width:var(--sw)"/>
<use href="#c_IDN2" fill="#f4331e" stroke="#505050" style="stroke-width:var(--sw)"/>
<use href="#c_IDN3" fill="#f4331e" stroke="#505050" style="stroke-width:var(--sw)"/>
<use href="#c_IDN4" fill="#f4331e" stroke="#505050" style="stroke-width:var(--sw)"/>
<use href="#c_IDN5" fill="#f4331e" stroke="#505050" style="stroke-width:var(--sw)"/>
<use href="#c_IDN6" fill="#f4331e" stroke="#505050" style="stroke-width:var(--sw)"/>
<use href="#c_IDN7" fill="#f4331e" stroke="#505050" style="stroke-width:var(--sw)"/>
<use href="#c_TLS" fill="#f27937" stroke="#505050" style="stroke-width:var(--sw)"/>
<use href="#c_PNG" fill="#f2833b" stroke="#505050" style="stroke-width:var(--sw)"/>
<use href="#c_SLB" fill="#f2833b" stroke="#505050" style="stroke-width:var(--sw)"/>
<use href="#c_PHL" fill="#f29443" stroke="#505050" style="stroke-width:var(--sw)"/>
<use href="#c_CHN" fill="#f19a46" stroke="#505050" style="stroke-width:var(--sw)"/>
<use href="#c_HAI" fill="#f19a46" stroke="#505050" style="stroke-width:var(--sw)"/>
<use href="#c_TWN" fill="#f28e40" stroke="#505050" style="stroke-width:var(--sw)"/>
<use href="#c_MNG" fill="#f4331e" stroke="#505050" style="stroke-width:var(--sw)"/>
<use href="#c_PRK" fill="#f2893d" stroke="#505050" style="stroke-width:var(--sw)"/>
<use href="#c_KOR" fill="#f2893d" stroke="#505050" style="stroke-width:var(--sw)"/>
<use href="#c_JPN" fill="#f37436" stroke="#505050" style="stroke-width:var(--sw)"/>
<use href="#c_MAR" fill="#f28e40" stroke="#505050" style="stroke-width:var(--sw)"/>
<use href="#c_ESH" fill="#f28e40" stroke="#505050" style="stroke-width:var(--sw)"/>
<use href="#c_DZA" fill="#f29443" stroke="#505050" style="stroke-width:var(--sw)"/>
<use href="#c_TUN" fill="#f28e40" stroke="#505050" style="stroke-width:var(--sw)"/>
<use href="#c_LBY" fill="#f2863c" stroke="#505050" style="stroke-width:var(--sw)"/>
<use href="#c_EGY" fill="#90b7b6" stroke="#505050" style="stroke-width:var(--sw)"/>
<use href="#c_MRT" fill="#b2bf8e" stroke="#505050" style="stroke-width:var(--sw)"/>
<use href="#c_MLI" fill="#a1bba2" stroke="#505050" style="stroke-width:var(--sw)"/>
<use href="#c_NER" fill="#c2c280" stroke="#505050" style="stroke-width:var(--sw)"/>
<use href="#c_TCD" fill="#ccc378" stroke="#505050" style="stroke-width:var(--sw)"/>
<use href="#c_SDN" fill="#f19a46" stroke="#505050" style="stroke-width:var(--sw)"/>
<use href="#c_SSD" fill="#f27937" stroke="#505050" style="stroke-width:var(--sw)"/>
<use href="#c_ERI" fill="#f29443" stroke="#505050" style="stroke-width:var(--sw)"/>
<use href="#c_ETH" fill="#f29443" stroke="#505050" style="stroke-width:var(--sw)"/>
<use href="#c_DJI" fill="#f29443" stroke="#505050" style="stroke-width:var(--sw)"/>
<use href="#c_SOM" fill="#f29443" stroke="#505050" style="stroke-width:var(--sw)"/>
<use href="#c_KEN" fill="#f1a24a" stroke="#505050" style="stroke-width:var(--sw)"/>
<use href="#c_UGA" fill="#80b2c9" stroke="#505050" style="stroke-width:var(--sw)"/>
<use href="#c_RWA" fill="#f0b152" stroke="#505050" style="stroke-width:var(--sw)"/>
<use href="#c_BDI" fill="#f0b152" stroke="#505050" style="stroke-width:var(--sw)"/>
<use href="#c_TZA" fill="#c2c280" stroke="#505050" style="stroke-width:var(--sw)"/>
<use href="#c_NGA" fill="#e6c261" stroke="#505050" style="stroke-width:var(--sw)"/>
<use href="#c_CMR" fill="#c2c280" stroke="#505050" style="stroke-width:var(--sw)"/>
<use href="#c_CAF" fill="#e6c261" stroke="#505050" style="stroke-width:var(--sw)"/>
<use href="#c_GNQ" fill="#e1c466" stroke="#505050" style="stroke-width:var(--sw)"/>
<use href="#c_GAB" fill="#e1c466" stroke="#505050" style="stroke-width:var(--sw)"/>
<use href="#c_COG" fill="#d2c472" stroke="#505050" style="stroke-width:var(--sw)"/>
<use href="#c_COD" fill="#edbe5a" stroke="#505050" style="stroke-width:var(--sw)"/>
<use href="#c_AGO" fill="#f28e40" stroke="#505050" style="stroke-width:var(--sw)"/>
<use href="#c_ZMB" fill="#f27937" stroke="#505050" style="stroke-width:var(--sw)"/>
<use href="#c_MWI" fill="#f27937" stroke="#505050" style="stroke-width:var(--sw)"/>
<use href="#c_MOZ" fill="#f28e40" stroke="#505050" style="stroke-width:var(--sw)"/>
<use href="#c_ZWE" fill="#f37436" stroke="#505050" style="stroke-width:var(--sw)"/>
<use href="#c_NAM" fill="#efb755" stroke="#505050" style="stroke-width:var(--sw)"/>
<use href="#c_BWA" fill="#e1c466" stroke="#505050" style="stroke-width:var(--sw)"/>
<use href="#c_ZAF" fill="#f1a24a" stroke="#505050" style="stroke-width:var(--sw)"/>
<use href="#c_LSO" fill="#f1a24a" stroke="#505050" style="stroke-width:var(--sw)"/>
<use href="#c_SWZ" fill="#f1a24a" stroke="#505050" style="stroke-width:var(--sw)"/>
<use href="#c_SEN" fill="#6cacdd" stroke="#505050" style="stroke-width:var(--sw)"/>
<use href="#c_GMB" fill="#6cacdd" stroke="#505050" style="stroke-width:var(--sw)"/>
<use href="#c_GNB" fill="#80b2c9" stroke="#505050" style="stroke-width:var(--sw)"/>
<use href="#c_GIN" fill="#a1bba2" stroke="#505050" style="stroke-width:var(--sw)"/>
<use href="#c_SLE" fill="#a1bba2" stroke="#505050" style="stroke-width:var(--sw)"/>
<use href="#c_LBR" fill="#80b2c9" stroke="#505050" style="stroke-width:var(--sw)"/>
<use href="#c_CIV" fill="#80b2c9" stroke="#505050" style="stroke-width:var(--sw)"/>
<use href="#c_BFA" fill="#86b4c2" stroke="#505050" style="stroke-width:var(--sw)"/>
<use href="#c_GHA" fill="#80b2c9" stroke="#505050" style="stroke-width:var(--sw)"/>
<use href="#c_TGO" fill="#a1bba2" stroke="#505050" style="stroke-width:var(--sw)"/>
<use href="#c_BEN" fill="#90b7b6" stroke="#505050" style="stroke-width:var(--sw)"/>
<use href="#c_MDG" fill="#f28e40" stroke="#505050" style="stroke-width:var(--sw)"/>
<use href="#c_AUS" fill="#f37436" stroke="#505050" style="stroke-width:var(--sw)"/>
<use href="#c_NZL" fill="#f37436" stroke="#505050" style="stroke-width:var(--sw)"/>
<use href="#c_SJM" fill="#f28e40" stroke="#505050" style="stroke-width:var(--sw)"/>
</g><use href="#land" fill="none" stroke="#505050" style="stroke-width:var(--sw)"/>
<use href="#water" fill="#fff" stroke="#505050" style="stroke-width:var(--sw)"/></g>
<g id="mapB"><g clip-path="url(#lc)">
<use href="#land" fill="#edbe5a"/>
<use href="#c_CAN" fill="#d6c570" stroke="#505050" style="stroke-width:var(--sw)"/>
<use href="#c_USA" fill="#efbd58" stroke="#505050" style="stroke-width:var(--sw)"/>
<use href="#c_ALA" fill="#edbe5a" stroke="#505050" style="stroke-width:var(--sw)"/>
<use href="#c_MEX" fill="#f35e2e" stroke="#505050" style="stroke-width:var(--sw)"/>
<use href="#c_GTM" fill="#f45129" stroke="#505050" style="stroke-width:var(--sw)"/>
<use href="#c_BLZ" fill="#f35e2e" stroke="#505050" style="stroke-width:var(--sw)"/>
<use href="#c_SLV" fill="#f36430" stroke="#505050" style="stroke-width:var(--sw)"/>
<use href="#c_HND" fill="#f35e2e" stroke="#505050" style="stroke-width:var(--sw)"/>
<use href="#c_NIC" fill="#f35e2e" stroke="#505050" style="stroke-width:var(--sw)"/>
<use href="#c_CRI" fill="#f37436" stroke="#505050" style="stroke-width:var(--sw)"/>
<use href="#c_PAN" fill="#f3572b" stroke="#505050" style="stroke-width:var(--sw)"/>
<use href="#c_CUB" fill="#edbe5a" stroke="#505050" style="stroke-width:var(--sw)"/>
<use href="#c_HTI" fill="#edbe5a" stroke="#505050" style="stroke-width:var(--sw)"/>
<use href="#c_DOM" fill="#edbe5a" stroke="#505050" style="stroke-width:var(--sw)"/>
<use href="#c_JAM" fill="#edbe5a" stroke="#505050" style="stroke-width:var(--sw)"/>
<use href="#c_PRI" fill="#edbe5a" stroke="#505050" style="stroke-width:var(--sw)"/>
<use href="#c_BHS" fill="#edbe5a" stroke="#505050" style="stroke-width:var(--sw)"/>
<use href="#c_GRL" fill="#c2c280" stroke="#505050" style="stroke-width:var(--sw)"/>
<use href="#c_ISL" fill="#f1a24a" stroke="#505050" style="stroke-width:var(--sw)"/>
<use href="#c_COL" fill="#f2833b" stroke="#505050" style="stroke-width:var(--sw)"/>
<use href="#c_VEN" fill="#f19f49" stroke="#505050" style="stroke-width:var(--sw)"/>
<use href="#c_GUY" fill="#edbe5a" stroke="#505050" style="stroke-width:var(--sw)"/>
<use href="#c_SUR" fill="#e6c261" stroke="#505050" style="stroke-width:var(--sw)"/>
<use href="#c_GUF" fill="#edbe5a" stroke="#505050" style="stroke-width:var(--sw)"/>
<use href="#c_ECU" fill="#efb755" stroke="#505050" style="stroke-width:var(--sw)"/>
<use href="#c_PER" fill="#eabf5c" stroke="#505050" style="stroke-width:var(--sw)"/>
<use href="#c_BRA" fill="#f19c47" stroke="#505050" style="stroke-width:var(--sw)"/>
<use href="#c_BOL" fill="#e6c261" stroke="#505050" style="stroke-width:var(--sw)"/>
<use href="#c_PRY" fill="#edbe5a" stroke="#505050" style="stroke-width:var(--sw)"/>
<use href="#c_URY" fill="#e6c261" stroke="#505050" style="stroke-width:var(--sw)"/>
<use href="#c_CHL" fill="#e6c261" stroke="#505050" style="stroke-width:var(--sw)"/>
<use href="#c_ARG" fill="#f19a46" stroke="#505050" style="stroke-width:var(--sw)"/>
<use href="#c_FLK" fill="#f1a24a" stroke="#505050" style="stroke-width:var(--sw)"/>
<use href="#c_RUS" fill="#e8c05f" stroke="#505050" style="stroke-width:var(--sw)"/>
<use href="#c_KGD" fill="#e8c05f" stroke="#505050" style="stroke-width:var(--sw)"/>
<use href="#c_NOR" fill="#f0b152" stroke="#505050" style="stroke-width:var(--sw)"/>
<use href="#c_SWE" fill="#f28e40" stroke="#505050" style="stroke-width:var(--sw)"/>
<use href="#c_FIN" fill="#f27937" stroke="#505050" style="stroke-width:var(--sw)"/>
<use href="#c_DNK" fill="#f3572b" stroke="#505050" style="stroke-width:var(--sw)"/>
<use href="#c_EST" fill="#edbe5a" stroke="#505050" style="stroke-width:var(--sw)"/>
<use href="#c_LVA" fill="#edbe5a" stroke="#505050" style="stroke-width:var(--sw)"/>
<use href="#c_LTU" fill="#edbe5a" stroke="#505050" style="stroke-width:var(--sw)"/>
<use href="#c_BLR" fill="#e6c261" stroke="#505050" style="stroke-width:var(--sw)"/>
<use href="#c_UKR" fill="#e6c261" stroke="#505050" style="stroke-width:var(--sw)"/>
<use href="#c_MDA" fill="#edbe5a" stroke="#505050" style="stroke-width:var(--sw)"/>
<use href="#c_POL" fill="#e6c261" stroke="#505050" style="stroke-width:var(--sw)"/>
<use href="#c_DEU" fill="#f37436" stroke="#505050" style="stroke-width:var(--sw)"/>
<use href="#c_NLD" fill="#f2863c" stroke="#505050" style="stroke-width:var(--sw)"/>
<use href="#c_BEL" fill="#f27e39" stroke="#505050" style="stroke-width:var(--sw)"/>
<use href="#c_FRA" fill="#f36c33" stroke="#505050" style="stroke-width:var(--sw)"/>
<use href="#c_COR" fill="#f36c33" stroke="#505050" style="stroke-width:var(--sw)"/>
<use href="#c_ESP" fill="#f1a24a" stroke="#505050" style="stroke-width:var(--sw)"/>
<use href="#c_PRT" fill="#f0ab4f" stroke="#505050" style="stroke-width:var(--sw)"/>
<use href="#c_GBR" fill="#edbe5a" stroke="#505050" style="stroke-width:var(--sw)"/>
<use href="#c_IRL" fill="#f36430" stroke="#505050" style="stroke-width:var(--sw)"/>
<use href="#c_CHE" fill="#f29443" stroke="#505050" style="stroke-width:var(--sw)"/>
<use href="#c_AUT" fill="#f1a24a" stroke="#505050" style="stroke-width:var(--sw)"/>
<use href="#c_ITA" fill="#f0ab4f" stroke="#505050" style="stroke-width:var(--sw)"/>
<use href="#c_SIC" fill="#f0ab4f" stroke="#505050" style="stroke-width:var(--sw)"/>
<use href="#c_SAR" fill="#f0ab4f" stroke="#505050" style="stroke-width:var(--sw)"/>
<use href="#c_CZE" fill="#edbe5a" stroke="#505050" style="stroke-width:var(--sw)"/>
<use href="#c_SVK" fill="#e6c261" stroke="#505050" style="stroke-width:var(--sw)"/>
<use href="#c_HUN" fill="#edbe5a" stroke="#505050" style="stroke-width:var(--sw)"/>
<use href="#c_SVN" fill="#f0b152" stroke="#505050" style="stroke-width:var(--sw)"/>
<use href="#c_HRV" fill="#edbe5a" stroke="#505050" style="stroke-width:var(--sw)"/>
<use href="#c_BIH" fill="#e6c261" stroke="#505050" style="stroke-width:var(--sw)"/>
<use href="#c_SRB" fill="#f29443" stroke="#505050" style="stroke-width:var(--sw)"/>
<use href="#c_KOS" fill="#d3d3d3" stroke="#505050" style="stroke-width:var(--sw)"/>
<use href="#c_MNE" fill="#e1c466" stroke="#505050" style="stroke-width:var(--sw)"/>
<use href="#c_ALB" fill="#e6c261" stroke="#505050" style="stroke-width:var(--sw)"/>
<use href="#c_MKD" fill="#e6c261" stroke="#505050" style="stroke-width:var(--sw)"/>
<use href="#c_GRC" fill="#e6c261" stroke="#505050" style="stroke-width:var(--sw)"/>
<use href="#c_BGR" fill="#dcc66a" stroke="#505050" style="stroke-width:var(--sw)"/>
<use href="#c_ROU" fill="#e1c466" stroke="#505050" style="stroke-width:var(--sw)"/>
<use href="#c_TUR" fill="#f5281a" stroke="#505050" style="stroke-width:var(--sw)"/>
<use href="#c_CYP" fill="#f29443" stroke="#505050" style="stroke-width:var(--sw)"/>
<use href="#c_GEO" fill="#f36c33" stroke="#505050" style="stroke-width:var(--sw)"/>
<use href="#c_ARM" fill="#f36c33" stroke="#505050" style="stroke-width:var(--sw)"/>
<use href="#c_AZE" fill="#f27937" stroke="#505050" style="stroke-width:var(--sw)"/>
<use href="#c_SYR" fill="#f1a24a" stroke="#505050" style="stroke-width:var(--sw)"/>
<use href="#c_LBN" fill="#f1a24a" stroke="#505050" style="stroke-width:var(--sw)"/>
<use href="#c_ISR" fill="#f1a24a" stroke="#505050" style="stroke-width:var(--sw)"/>
<use href="#c_JOR" fill="#f2863c" stroke="#505050" style="stroke-width:var(--sw)"/>
<use href="#c_IRQ" fill="#f28e40" stroke="#505050" style="stroke-width:var(--sw)"/>
<use href="#c_KWT" fill="#f29443" stroke="#505050" style="stroke-width:var(--sw)"/>
<use href="#c_SAU" fill="#f27937" stroke="#505050" style="stroke-width:var(--sw)"/>
<use href="#c_QAT" fill="#f1a24a" stroke="#505050" style="stroke-width:var(--sw)"/>
<use href="#c_BHR" fill="#f1a24a" stroke="#505050" style="stroke-width:var(--sw)"/>
<use href="#c_ARE" fill="#f0b152" stroke="#505050" style="stroke-width:var(--sw)"/>
<use href="#c_OMN" fill="#edbe5a" stroke="#505050" style="stroke-width:var(--sw)"/>
<use href="#c_OMN2" fill="#f0b152" stroke="#505050" style="stroke-width:var(--sw)"/>
<use href="#c_YEM" fill="#edbe5a" stroke="#505050" style="stroke-width:var(--sw)"/>
<use href="#c_IRN" fill="#f0b152" stroke="#505050" style="stroke-width:var(--sw)"/>
<use href="#c_KAZ" fill="#e8c05f" stroke="#505050" style="stroke-width:var(--sw)"/>
<use href="#c_UZB" fill="#edbe5a" stroke="#505050" style="stroke-width:var(--sw)"/>
<use href="#c_TKM" fill="#edbe5a" stroke="#505050" style="stroke-width:var(--sw)"/>
<use href="#c_KGZ" fill="#edbe5a" stroke="#505050" style="stroke-width:var(--sw)"/>
<use href="#c_TJK" fill="#edbe5a" stroke="#505050" style="stroke-width:var(--sw)"/>
<use href="#c_AFG" fill="#edbe5a" stroke="#505050" style="stroke-width:var(--sw)"/>
<use href="#c_PAK" fill="#d6c570" stroke="#505050" style="stroke-width:var(--sw)"/>
<use href="#c_IND" fill="#f1a24a" stroke="#505050" style="stroke-width:var(--sw)"/>
<use href="#c_NPL" fill="#f0b152" stroke="#505050" style="stroke-width:var(--sw)"/>
<use href="#c_BTN" fill="#f0b152" stroke="#505050" style="stroke-width:var(--sw)"/>
<use href="#c_BGD" fill="#f5281a" stroke="#505050" style="stroke-width:var(--sw)"/>
<use href="#c_LKA" fill="#f0b152" stroke="#505050" style="stroke-width:var(--sw)"/>
<use href="#c_MMR" fill="#f1a24a" stroke="#505050" style="stroke-width:var(--sw)"/>
<use href="#c_THA" fill="#f29443" stroke="#505050" style="stroke-width:var(--sw)"/>
<use href="#c_LAO" fill="#f37436" stroke="#505050" style="stroke-width:var(--sw)"/>
<use href="#c_KHM" fill="#f29443" stroke="#505050" style="stroke-width:var(--sw)"/>
<use href="#c_VNM" fill="#f1a24a" stroke="#505050" style="stroke-width:var(--sw)"/>
<use href="#c_MYS" fill="#f28e40" stroke="#505050" style="stroke-width:var(--sw)"/>
<use href="#c_MYS2" fill="#f28e40" stroke="#505050" style="stroke-width:var(--sw)"/>
<use href="#c_IDN" fill="#f27937" stroke="#505050" style="stroke-width:var(--sw)"/>
<use href="#c_IDN2" fill="#f27937" stroke="#505050" style="stroke-width:var(--sw)"/>
<use href="#c_IDN3" fill="#f27937" stroke="#505050" style="stroke-width:var(--sw)"/>
<use href="#c_IDN4" fill="#f27937" stroke="#505050" style="stroke-width:var(--sw)"/>
<use href="#c_IDN5" fill="#f27937" stroke="#505050" style="stroke-width:var(--sw)"/>
<use href="#c_IDN6" fill="#f27937" stroke="#505050" style="stroke-width:var(--sw)"/>
<use href="#c_IDN7" fill="#f27937" stroke="#505050" style="stroke-width:var(--sw)"/>
<use href="#c_TLS" fill="#f0b152" stroke="#505050" style="stroke-width:var(--sw)"/>
<use href="#c_PNG" fill="#edbe5a" stroke="#505050" style="stroke-width:var(--sw)"/>
<use href="#c_SLB" fill="#edbe5a" stroke="#505050" style="stroke-width:var(--sw)"/>
<use href="#c_PHL" fill="#d2c472" stroke="#505050" style="stroke-width:var(--sw)"/>
<use href="#c_CHN" fill="#f19a46" stroke="#505050" style="stroke-width:var(--sw)"/>
<use href="#c_HAI" fill="#f19a46" stroke="#505050" style="stroke-width:var(--sw)"/>
<use href="#c_TWN" fill="#f1a24a" stroke="#505050" style="stroke-width:var(--sw)"/>
<use href="#c_MNG" fill="#f27937" stroke="#505050" style="stroke-width:var(--sw)"/>
<use href="#c_PRK" fill="#f0b152" stroke="#505050" style="stroke-width:var(--sw)"/>
<use href="#c_KOR" fill="#f0b152" stroke="#505050" style="stroke-width:var(--sw)"/>
<use href="#c_JPN" fill="#edbe5a" stroke="#505050" style="stroke-width:var(--sw)"/>
<use href="#c_MAR" fill="#f29443" stroke="#505050" style="stroke-width:var(--sw)"/>
<use href="#c_ESH" fill="#f0b152" stroke="#505050" style="stroke-width:var(--sw)"/>
<use href="#c_DZA" fill="#f28e40" stroke="#505050" style="stroke-width:var(--sw)"/>
<use href="#c_TUN" fill="#f29443" stroke="#505050" style="stroke-width:var(--sw)"/>
<use href="#c_LBY" fill="#e6c261" stroke="#505050" style="stroke-width:var(--sw)"/>
<use href="#c_EGY" fill="#69abe0" stroke="#505050" style="stroke-width:var(--sw)"/>
<use href="#c_MRT" fill="#f5281a" stroke="#505050" style="stroke-width:var(--sw)"/>
<use href="#c_MLI" fill="#edbe5a" stroke="#505050" style="stroke-width:var(--sw)"/>
<use href="#c_NER" fill="#f2863c" stroke="#505050" style="stroke-width:var(--sw)"/>
<use href="#c_TCD" fill="#f36c33" stroke="#505050" style="stroke-width:var(--sw)"/>
<use href="#c_SDN" fill="#edbe5a" stroke="#505050" style="stroke-width:var(--sw)"/>
<use href="#c_SSD" fill="#e1c466" stroke="#505050" style="stroke-width:var(--sw)"/>
<use href="#c_ERI" fill="#e6c261" stroke="#505050" style="stroke-width:var(--sw)"/>
<use href="#c_ETH" fill="#f1a24a" stroke="#505050" style="stroke-width:var(--sw)"/>
<use href="#c_DJI" fill="#f0b152" stroke="#505050" style="stroke-width:var(--sw)"/>
<use href="#c_SOM" fill="#ccc378" stroke="#505050" style="stroke-width:var(--sw)"/>
<use href="#c_KEN" fill="#f0ab4f" stroke="#505050" style="stroke-width:var(--sw)"/>
<use href="#c_UGA" fill="#6fadd9" stroke="#505050" style="stroke-width:var(--sw)"/>
<use href="#c_RWA" fill="#c2c280" stroke="#505050" style="stroke-width:var(--sw)"/>
<use href="#c_BDI" fill="#c2c280" stroke="#505050" style="stroke-width:var(--sw)"/>
<use href="#c_TZA" fill="#9ab9aa" stroke="#505050" style="stroke-width:var(--sw)"/>
<use href="#c_NGA" fill="#f5281a" stroke="#505050" style="stroke-width:var(--sw)"/>
<use href="#c_CMR" fill="#e6c261" stroke="#505050" style="stroke-width:var(--sw)"/>
<use href="#c_CAF" fill="#ccc378" stroke="#505050" style="stroke-width:var(--sw)"/>
<use href="#c_GNQ" fill="#c2c280" stroke="#505050" style="stroke-width:var(--sw)"/>
<use href="#c_GAB" fill="#90b7b6" stroke="#505050" style="stroke-width:var(--sw)"/>
<use href="#c_COG" fill="#c2c280" stroke="#505050" style="stroke-width:var(--sw)"/>
<use href="#c_COD" fill="#c2c280" stroke="#505050" style="stroke-width:var(--sw)"/>
<use href="#c_AGO" fill="#c2c280" stroke="#505050" style="stroke-width:var(--sw)"/>
<use href="#c_ZMB" fill="#90b7b6" stroke="#505050" style="stroke-width:var(--sw)"/>
<use href="#c_MWI" fill="#90b7b6" stroke="#505050" style="stroke-width:var(--sw)"/>
<use href="#c_MOZ" fill="#bcc186" stroke="#505050" style="stroke-width:var(--sw)"/>
<use href="#c_ZWE" fill="#edbe5a" stroke="#505050" style="stroke-width:var(--sw)"/>
<use href="#c_NAM" fill="#edbe5a" stroke="#505050" style="stroke-width:var(--sw)"/>
<use href="#c_BWA" fill="#d2c472" stroke="#505050" style="stroke-width:var(--sw)"/>
<use href="#c_ZAF" fill="#f28e40" stroke="#505050" style="stroke-width:var(--sw)"/>
<use href="#c_LSO" fill="#f0b152" stroke="#505050" style="stroke-width:var(--sw)"/>
<use href="#c_SWZ" fill="#f0b152" stroke="#505050" style="stroke-width:var(--sw)"/>
<use href="#c_SEN" fill="#90b7b6" stroke="#505050" style="stroke-width:var(--sw)"/>
<use href="#c_GMB" fill="#90b7b6" stroke="#505050" style="stroke-width:var(--sw)"/>
<use href="#c_GNB" fill="#c2c280" stroke="#505050" style="stroke-width:var(--sw)"/>
<use href="#c_GIN" fill="#e6c261" stroke="#505050" style="stroke-width:var(--sw)"/>
<use href="#c_SLE" fill="#c2c280" stroke="#505050" style="stroke-width:var(--sw)"/>
<use href="#c_LBR" fill="#c2c280" stroke="#505050" style="stroke-width:var(--sw)"/>
<use href="#c_CIV" fill="#c2c280" stroke="#505050" style="stroke-width:var(--sw)"/>
<use href="#c_BFA" fill="#e6c261" stroke="#505050" style="stroke-width:var(--sw)"/>
<use href="#c_GHA" fill="#c2c280" stroke="#505050" style="stroke-width:var(--sw)"/>
<use href="#c_TGO" fill="#e1c466" stroke="#505050" style="stroke-width:var(--sw)"/>
<use href="#c_BEN" fill="#e1c466" stroke="#505050" style="stroke-width:var(--sw)"/>
<use href="#c_MDG" fill="#c2c280" stroke="#505050" style="stroke-width:var(--sw)"/>
<use href="#c_AUS" fill="#edbe5a" stroke="#505050" style="stroke-width:var(--sw)"/>
<use href="#c_NZL" fill="#eabf5c" stroke="#505050" style="stroke-width:var(--sw)"/>
<use href="#c_SJM" fill="#f0b152" stroke="#505050" style="stroke-width:var(--sw)"/>
</g><use href="#land" fill="none" stroke="#505050" style="stroke-width:var(--sw)"/>
<use href="#water" fill="#fff" stroke="#505050" style="stroke-width:var(--sw)"/></g>
<g id="mapC"><g clip-path="url(#lc)">
<use href="#land" fill="#c2c280"/>
<use href="#c_CAN" fill="#c2c280" stroke="#505050" style="stroke-width:var(--sw)"/>
<use href="#c_USA" fill="#edbe5a" stroke="#505050" style="stroke-width:var(--sw)"/>
<use href="#c_ALA" fill="#eabf5c" stroke="#505050" style="stroke-width:var(--sw)"/>
<use href="#c_MEX" fill="#c2c280" stroke="#505050" style="stroke-width:var(--sw)"/>
<use href="#c_GTM" fill="#94b7b2" stroke="#505050" style="stroke-width:var(--sw)"/>
<use href="#c_BLZ" fill="#b2bf8e" stroke="#505050" style="stroke-width:var(--sw)"/>
<use href="#c_SLV" fill="#a8bc9a" stroke="#505050" style="stroke-width:var(--sw)"/>
<use href="#c_HND" fill="#a1bba2" stroke="#505050" style="stroke-width:var(--sw)"/>
<use href="#c_NIC" fill="#b2bf8e" stroke="#505050" style="stroke-width:var(--sw)"/>
<use href="#c_CRI" fill="#a1bba2" stroke="#505050" style="stroke-width:var(--sw)"/>
<use href="#c_PAN" fill="#b2bf8e" stroke="#505050" style="stroke-width:var(--sw)"/>
<use href="#c_CUB" fill="#bcc186" stroke="#505050" style="stroke-width:var(--sw)"/>
<use href="#c_HTI" fill="#c2c280" stroke="#505050" style="stroke-width:var(--sw)"/>
<use href="#c_DOM" fill="#c2c280" stroke="#505050" style="stroke-width:var(--sw)"/>
<use href="#c_JAM" fill="#c2c280" stroke="#505050" style="stroke-width:var(--sw)"/>
<use href="#c_PRI" fill="#c2c280" stroke="#505050" style="stroke-width:var(--sw)"/>
<use href="#c_BHS" fill="#c2c280" stroke="#505050" style="stroke-width:var(--sw)"/>
<use href="#c_GRL" fill="#a1bba2" stroke="#505050" style="stroke-width:var(--sw)"/>
<use href="#c_ISL" fill="#e6c261" stroke="#505050" style="stroke-width:var(--sw)"/>
<use href="#c_COL" fill="#dcc66a" stroke="#505050" style="stroke-width:var(--sw)"/>
<use href="#c_VEN" fill="#ccc378" stroke="#505050" style="stroke-width:var(--sw)"/>
<use href="#c_GUY" fill="#f28e40" stroke="#505050" style="stroke-width:var(--sw)"/>
<use href="#c_SUR" fill="#a1bba2" stroke="#505050" style="stroke-width:var(--sw)"/>
<use href="#c_GUF" fill="#c2c280" stroke="#505050" style="stroke-width:var(--sw)"/>
<use href="#c_ECU" fill="#e6c261" stroke="#505050" style="stroke-width:var(--sw)"/>
<use href="#c_PER" fill="#c2c280" stroke="#505050" style="stroke-width:var(--sw)"/>
<use href="#c_BRA" fill="#d6c570" stroke="#505050" style="stroke-width:var(--sw)"/>
<use href="#c_BOL" fill="#c9c37b" stroke="#505050" style="stroke-width:var(--sw)"/>
<use href="#c_PRY" fill="#edbe5a" stroke="#505050" style="stroke-width:var(--sw)"/>
<use href="#c_URY" fill="#a1bba2" stroke="#505050" style="stroke-width:var(--sw)"/>
<use href="#c_CHL" fill="#c2c280" stroke="#505050" style="stroke-width:var(--sw)"/>
<use href="#c_ARG" fill="#90b7b6" stroke="#505050" style="stroke-width:var(--sw)"/>
<use href="#c_FLK" fill="#c2c280" stroke="#505050" style="stroke-width:var(--sw)"/>
<use href="#c_RUS" fill="#89b5be" stroke="#505050" style="stroke-width:var(--sw)"/>
<use href="#c_KGD" fill="#89b5be" stroke="#505050" style="stroke-width:var(--sw)"/>
<use href="#c_NOR" fill="#5fa8ea" stroke="#505050" style="stroke-width:var(--sw)"/>
<use href="#c_SWE" fill="#c2c280" stroke="#505050" style="stroke-width:var(--sw)"/>
<use href="#c_FIN" fill="#dcc66a" stroke="#505050" style="stroke-width:var(--sw)"/>
<use href="#c_DNK" fill="#c2c280" stroke="#505050" style="stroke-width:var(--sw)"/>
<use href="#c_EST" fill="#dcc66a" stroke="#505050" style="stroke-width:var(--sw)"/>
<use href="#c_LVA" fill="#efb755" stroke="#505050" style="stroke-width:var(--sw)"/>
<use href="#c_LTU" fill="#dcc66a" stroke="#505050" style="stroke-width:var(--sw)"/>
<use href="#c_BLR" fill="#c2c280" stroke="#505050" style="stroke-width:var(--sw)"/>
<use href="#c_UKR" fill="#f0b152" stroke="#505050" style="stroke-width:var(--sw)"/>
<use href="#c_MDA" fill="#f37436" stroke="#505050" style="stroke-width:var(--sw)"/>
<use href="#c_POL" fill="#c2c280" stroke="#505050" style="stroke-width:var(--sw)"/>
<use href="#c_DEU" fill="#c9c37b" stroke="#505050" style="stroke-width:var(--sw)"/>
<use href="#c_NLD" fill="#ccc378" stroke="#505050" style="stroke-width:var(--sw)"/>
<use href="#c_BEL" fill="#ccc378" stroke="#505050" style="stroke-width:var(--sw)"/>
<use href="#c_FRA" fill="#f0b152" stroke="#505050" style="stroke-width:var(--sw)"/>
<use href="#c_COR" fill="#f0b152" stroke="#505050" style="stroke-width:var(--sw)"/>
<use href="#c_ESP" fill="#ccc378" stroke="#505050" style="stroke-width:var(--sw)"/>
<use href="#c_PRT" fill="#c2c280" stroke="#505050" style="stroke-width:var(--sw)"/>
<use href="#c_GBR" fill="#ccc378" stroke="#505050" style="stroke-width:var(--sw)"/>
<use href="#c_IRL" fill="#c9c37b" stroke="#505050" style="stroke-width:var(--sw)"/>
<use href="#c_CHE" fill="#c2c280" stroke="#505050" style="stroke-width:var(--sw)"/>
<use href="#c_AUT" fill="#c2c280" stroke="#505050" style="stroke-width:var(--sw)"/>
<use href="#c_ITA" fill="#bcc186" stroke="#505050" style="stroke-width:var(--sw)"/>
<use href="#c_SIC" fill="#bcc186" stroke="#505050" style="stroke-width:var(--sw)"/>
<use href="#c_SAR" fill="#bcc186" stroke="#505050" style="stroke-width:var(--sw)"/>
<use href="#c_CZE" fill="#c2c280" stroke="#505050" style="stroke-width:var(--sw)"/>
<use href="#c_SVK" fill="#c2c280" stroke="#505050" style="stroke-width:var(--sw)"/>
<use href="#c_HUN" fill="#a8bc9a" stroke="#505050" style="stroke-width:var(--sw)"/>
<use href="#c_SVN" fill="#e1c466" stroke="#505050" style="stroke-width:var(--sw)"/>
<use href="#c_HRV" fill="#c2c280" stroke="#505050" style="stroke-width:var(--sw)"/>
<use href="#c_BIH" fill="#e6c261" stroke="#505050" style="stroke-width:var(--sw)"/>
<use href="#c_SRB" fill="#a8bc9a" stroke="#505050" style="stroke-width:var(--sw)"/>
<use href="#c_KOS" fill="#d3d3d3" stroke="#505050" style="stroke-width:var(--sw)"/>
<use href="#c_MNE" fill="#c2c280" stroke="#505050" style="stroke-width:var(--sw)"/>
<use href="#c_ALB" fill="#d2c472" stroke="#505050" style="stroke-width:var(--sw)"/>
<use href="#c_MKD" fill="#97b8ae" stroke="#505050" style="stroke-width:var(--sw)"/>
<use href="#c_GRC" fill="#edbe5a" stroke="#505050" style="stroke-width:var(--sw)"/>
<use href="#c_BGR" fill="#c2c280" stroke="#505050" style="stroke-width:var(--sw)"/>
<use href="#c_ROU" fill="#e1c466" stroke="#505050" style="stroke-width:var(--sw)"/>
<use href="#c_TUR" fill="#a8bc9a" stroke="#505050" style="stroke-width:var(--sw)"/>
<use href="#c_CYP" fill="#c2c280" stroke="#505050" style="stroke-width:var(--sw)"/>
<use href="#c_GEO" fill="#c2c280" stroke="#505050" style="stroke-width:var(--sw)"/>
<use href="#c_ARM" fill="#c2c280" stroke="#505050" style="stroke-width:var(--sw)"/>
<use href="#c_AZE" fill="#c2c280" stroke="#505050" style="stroke-width:var(--sw)"/>
<use href="#c_SYR" fill="#c2c280" stroke="#505050" style="stroke-width:var(--sw)"/>
<use href="#c_LBN" fill="#c2c280" stroke="#505050" style="stroke-width:var(--sw)"/>
<use href="#c_ISR" fill="#c2c280" stroke="#505050" style="stroke-width:var(--sw)"/>
<use href="#c_JOR" fill="#c2c280" stroke="#505050" style="stroke-width:var(--sw)"/>
<use href="#c_IRQ" fill="#a1bba2" stroke="#505050" style="stroke-width:var(--sw)"/>
<use href="#c_KWT" fill="#f27937" stroke="#505050" style="stroke-width:var(--sw)"/>
<use href="#c_SAU" fill="#90b7b6" stroke="#505050" style="stroke-width:var(--sw)"/>
<use href="#c_QAT" fill="#dcc66a" stroke="#505050" style="stroke-width:var(--sw)"/>
<use href="#c_BHR" fill="#c2c280" stroke="#505050" style="stroke-width:var(--sw)"/>
<use href="#c_ARE" fill="#b2bf8e" stroke="#505050" style="stroke-width:var(--sw)"/>
<use href="#c_OMN" fill="#f0b152" stroke="#505050" style="stroke-width:var(--sw)"/>
<use href="#c_OMN2" fill="#f0b152" stroke="#505050" style="stroke-width:var(--sw)"/>
<use href="#c_YEM" fill="#f0b152" stroke="#505050" style="stroke-width:var(--sw)"/>
<use href="#c_IRN" fill="#6cacdd" stroke="#505050" style="stroke-width:var(--sw)"/>
<use href="#c_KAZ" fill="#d9c56d" stroke="#505050" style="stroke-width:var(--sw)"/>
<use href="#c_UZB" fill="#c9c37b" stroke="#505050" style="stroke-width:var(--sw)"/>
<use href="#c_TKM" fill="#c9c37b" stroke="#505050" style="stroke-width:var(--sw)"/>
<use href="#c_KGZ" fill="#c9c37b" stroke="#505050" style="stroke-width:var(--sw)"/>
<use href="#c_TJK" fill="#c9c37b" stroke="#505050" style="stroke-width:var(--sw)"/>
<use href="#c_AFG" fill="#f28c3f" stroke="#505050" style="stroke-width:var(--sw)"/>
<use href="#c_PAK" fill="#e1c466" stroke="#505050" style="stroke-width:var(--sw)"/>
<use href="#c_IND" fill="#e1c466" stroke="#505050" style="stroke-width:var(--sw)"/>
<use href="#c_NPL" fill="#e1c466" stroke="#505050" style="stroke-width:var(--sw)"/>
<use href="#c_BTN" fill="#e1c466" stroke="#505050" style="stroke-width:var(--sw)"/>
<use href="#c_BGD" fill="#e6c261" stroke="#505050" style="stroke-width:var(--sw)"/>
<use href="#c_LKA" fill="#e1c466" stroke="#505050" style="stroke-width:var(--sw)"/>
<use href="#c_MMR" fill="#e6c261" stroke="#505050" style="stroke-width:var(--sw)"/>
<use href="#c_THA" fill="#edbe5a" stroke="#505050" style="stroke-width:var(--sw)"/>
<use href="#c_LAO" fill="#edbe5a" stroke="#505050" style="stroke-width:var(--sw)"/>
<use href="#c_KHM" fill="#edbe5a" stroke="#505050" style="stroke-width:var(--sw)"/>
<use href="#c_VNM" fill="#e6c261" stroke="#505050" style="stroke-width:var(--sw)"/>
<use href="#c_MYS" fill="#efbd58" stroke="#505050" style="stroke-width:var(--sw)"/>
<use href="#c_MYS2" fill="#efbd58" stroke="#505050" style="stroke-width:var(--sw)"/>
<use href="#c_IDN" fill="#edbe5a" stroke="#505050" style="stroke-width:var(--sw)"/>
<use href="#c_IDN2" fill="#edbe5a" stroke="#505050" style="stroke-width:var(--sw)"/>
<use href="#c_IDN3" fill="#edbe5a" stroke="#505050" style="stroke-width:var(--sw)"/>
<use href="#c_IDN4" fill="#edbe5a" stroke="#505050" style="stroke-width:var(--sw)"/>
<use href="#c_IDN5" fill="#edbe5a" stroke="#505050" style="stroke-width:var(--sw)"/>
<use href="#c_IDN6" fill="#edbe5a" stroke="#505050" style="stroke-width:var(--sw)"/>
<use href="#c_IDN7" fill="#edbe5a" stroke="#505050" style="stroke-width:var(--sw)"/>
<use href="#c_TLS" fill="#edbe5a" stroke="#505050" style="stroke-width:var(--sw)"/>
<use href="#c_PNG" fill="#f1a24a" stroke="#505050" style="stroke-width:var(--sw)"/>
<use href="#c_SLB" fill="#edbe5a" stroke="#505050" style="stroke-width:var(--sw)"/>
<use href="#c_PHL" fill="#e1c466" stroke="#505050" style="stroke-width:var(--sw)"/>
<use href="#c_CHN" fill="#b8c088" stroke="#505050" style="stroke-width:var(--sw)"/>
<use href="#c_HAI" fill="#b8c088" stroke="#505050" style="stroke-width:var(--sw)"/>
<use href="#c_TWN" fill="#c2c280" stroke="#505050" style="stroke-width:var(--sw)"/>
<use href="#c_MNG" fill="#c9c37b" stroke="#505050" style="stroke-width:var(--sw)"/>
<use href="#c_PRK" fill="#c2c280" stroke="#505050" style="stroke-width:var(--sw)"/>
<use href="#c_KOR" fill="#c2c280" stroke="#505050" style="stroke-width:var(--sw)"/>
<use href="#c_JPN" fill="#edbe5a" stroke="#505050" style="stroke-width:var(--sw)"/>
<use href="#c_MAR" fill="#ccc378" stroke="#505050" style="stroke-width:var(--sw)"/>
<use href="#c_ESH" fill="#e1c466" stroke="#505050" style="stroke-width:var(--sw)"/>
<use href="#c_DZA" fill="#ccc378" stroke="#505050" style="stroke-width:var(--sw)"/>
<use href="#c_TUN" fill="#ccc378" stroke="#505050" style="stroke-width:var(--sw)"/>
<use href="#c_LBY" fill="#f0ab4f" stroke="#505050" style="stroke-width:var(--sw)"/>
<use href="#c_EGY" fill="#9ab9aa" stroke="#505050" style="stroke-width:var(--sw)"/>
<use href="#c_MRT" fill="#e6c261" stroke="#505050" style="stroke-width:var(--sw)"/>
<use href="#c_MLI" fill="#e6c261" stroke="#505050" style="stroke-width:var(--sw)"/>
<use href="#c_NER" fill="#e6c261" stroke="#505050" style="stroke-width:var(--sw)"/>
<use href="#c_TCD" fill="#f1a24a" stroke="#505050" style="stroke-width:var(--sw)"/>
<use href="#c_SDN" fill="#f0b152" stroke="#505050" style="stroke-width:var(--sw)"/>
<use href="#c_SSD" fill="#e6c261" stroke="#505050" style="stroke-width:var(--sw)"/>
<use href="#c_ERI" fill="#e6c261" stroke="#505050" style="stroke-width:var(--sw)"/>
<use href="#c_ETH" fill="#ccc378" stroke="#505050" style="stroke-width:var(--sw)"/>
<use href="#c_DJI" fill="#e1c466" stroke="#505050" style="stroke-width:var(--sw)"/>
<use href="#c_SOM" fill="#ccc378" stroke="#505050" style="stroke-width:var(--sw)"/>
<use href="#c_KEN" fill="#dcc66a" stroke="#505050" style="stroke-width:var(--sw)"/>
<use href="#c_UGA" fill="#c2c280" stroke="#505050" style="stroke-width:var(--sw)"/>
<use href="#c_RWA" fill="#c2c280" stroke="#505050" style="stroke-width:var(--sw)"/>
<use href="#c_BDI" fill="#c2c280" stroke="#505050" style="stroke-width:var(--sw)"/>
<use href="#c_TZA" fill="#dcc66a" stroke="#505050" style="stroke-width:var(--sw)"/>
<use href="#c_NGA" fill="#efbd58" stroke="#505050" style="stroke-width:var(--sw)"/>
<use href="#c_CMR" fill="#f0b152" stroke="#505050" style="stroke-width:var(--sw)"/>
<use href="#c_CAF" fill="#e1c466" stroke="#505050" style="stroke-width:var(--sw)"/>
<use href="#c_GNQ" fill="#c2c280" stroke="#505050" style="stroke-width:var(--sw)"/>
<use href="#c_GAB" fill="#c2c280" stroke="#505050" style="stroke-width:var(--sw)"/>
<use href="#c_COG" fill="#c2c280" stroke="#505050" style="stroke-width:var(--sw)"/>
<use href="#c_COD" fill="#c2c280" stroke="#505050" style="stroke-width:var(--sw)"/>
<use href="#c_AGO" fill="#c2c280" stroke="#505050" style="stroke-width:var(--sw)"/>
<use href="#c_ZMB" fill="#c2c280" stroke="#505050" style="stroke-width:var(--sw)"/>
<use href="#c_MWI" fill="#c2c280" stroke="#505050" style="stroke-width:var(--sw)"/>
<use href="#c_MOZ" fill="#c2c280" stroke="#505050" style="stroke-width:var(--sw)"/>
<use href="#c_ZWE" fill="#f2833b" stroke="#505050" style="stroke-width:var(--sw)"/>
<use href="#c_NAM" fill="#f0ab4f" stroke="#505050" style="stroke-width:var(--sw)"/>
<use href="#c_BWA" fill="#f19f49" stroke="#505050" style="stroke-width:var(--sw)"/>
<use href="#c_ZAF" fill="#ccc378" stroke="#505050" style="stroke-width:var(--sw)"/>
<use href="#c_LSO" fill="#e1c466" stroke="#505050" style="stroke-width:var(--sw)"/>
<use href="#c_SWZ" fill="#e1c466" stroke="#505050" style="stroke-width:var(--sw)"/>
<use href="#c_SEN" fill="#ccc378" stroke="#505050" style="stroke-width:var(--sw)"/>
<use href="#c_GMB" fill="#ccc378" stroke="#505050" style="stroke-width:var(--sw)"/>
<use href="#c_GNB" fill="#e1c466" stroke="#505050" style="stroke-width:var(--sw)"/>
<use href="#c_GIN" fill="#e6c261" stroke="#505050" style="stroke-width:var(--sw)"/>
<use href="#c_SLE" fill="#e6c261" stroke="#505050" style="stroke-width:var(--sw)"/>
<use href="#c_LBR" fill="#e6c261" stroke="#505050" style="stroke-width:var(--sw)"/>
<use href="#c_CIV" fill="#e6c261" stroke="#505050" style="stroke-width:var(--sw)"/>
<use href="#c_BFA" fill="#edbe5a" stroke="#505050" style="stroke-width:var(--sw)"/>
<use href="#c_GHA" fill="#edbe5a" stroke="#505050" style="stroke-width:var(--sw)"/>
<use href="#c_TGO" fill="#edbe5a" stroke="#505050" style="stroke-width:var(--sw)"/>
<use href="#c_BEN" fill="#edbe5a" stroke="#505050" style="stroke-width:var(--sw)"/>
<use href="#c_MDG" fill="#ccc378" stroke="#505050" style="stroke-width:var(--sw)"/>
<use href="#c_AUS" fill="#c2c280" stroke="#505050" style="stroke-width:var(--sw)"/>
<use href="#c_NZL" fill="#edbe5a" stroke="#505050" style="stroke-width:var(--sw)"/>
<use href="#c_SJM" fill="#5fa8ea" stroke="#505050" style="stroke-width:var(--sw)"/>
</g><use href="#land" fill="none" stroke="#505050" style="stroke-width:var(--sw)"/>
<use href="#water" fill="#fff" stroke="#505050" style="stroke-width:var(--sw)"/></g>
<g id="mapD"><g clip-path="url(#lc)">
<use href="#land" fill="#c2c280"/>
<use href="#c_CAN" fill="#c2c280" stroke="#505050" style="stroke-width:var(--sw)"/>
<use href="#c_USA" fill="#edbe5a" stroke="#505050" style="stroke-width:var(--sw)"/>
<use href="#c_ALA" fill="#eabf5c" stroke="#505050" style="stroke-width:var(--sw)"/>
<use href="#c_MEX" fill="#c2c280" stroke="#505050" style="stroke-width:var(--sw)"/>
<use href="#c_GTM" fill="#94b7b2" stroke="#505050" style="stroke-width:var(--sw)"/>
<use href="#c_BLZ" fill="#b2bf8e" stroke="#505050" style="stroke-width:var(--sw)"/>
<use href="#c_SLV" fill="#a8bc9a" stroke="#505050" style="stroke-width:var(--sw)"/>
<use href="#c_HND" fill="#a1bba2" stroke="#505050" style="stroke-width:var(--sw)"/>
<use href="#c_NIC" fill="#b2bf8e" stroke="#505050" style="stroke-width:var(--sw)"/>
<use href="#c_CRI" fill="#a1bba2" stroke="#505050" style="stroke-width:var(--sw)"/>
<use href="#c_PAN" fill="#b2bf8e" stroke="#505050" style="stroke-width:var(--sw)"/>
<use href="#c_CUB" fill="#bcc186" stroke="#505050" style="stroke-width:var(--sw)"/>
<use href="#c_HTI" fill="#c2c280" stroke="#505050" style="stroke-width:var(--sw)"/>
<use href="#c_DOM" fill="#c2c280" stroke="#505050" style="stroke-width:var(--sw)"/>
<use href="#c_JAM" fill="#c2c280" stroke="#505050" style="stroke-width:var(--sw)"/>
<use href="#c_PRI" fill="#c2c280" stroke="#505050" style="stroke-width:var(--sw)"/>
<use href="#c_BHS" fill="#c2c280" stroke="#505050" style="stroke-width:var(--sw)"/>
<use href="#c_GRL" fill="#a1bba2" stroke="#505050" style="stroke-width:var(--sw)"/>
<use href="#c_ISL" fill="#e6c261" stroke="#505050" style="stroke-width:var(--sw)"/>
<use href="#c_COL" fill="#dcc66a" stroke="#505050" style="stroke-width:var(--sw)"/>
<use href="#c_VEN" fill="#ccc378" stroke="#505050" style="stroke-width:var(--sw)"/>
<use href="#c_GUY" fill="#f1a24a" stroke="#505050" style="stroke-width:var(--sw)"/>
<use href="#c_SUR" fill="#a1bba2" stroke="#505050" style="stroke-width:var(--sw)"/>
<use href="#c_GUF" fill="#c2c280" stroke="#505050" style="stroke-width:var(--sw)"/>
<use href="#c_ECU" fill="#f0ab4f" stroke="#505050" style="stroke-width:var(--sw)"/>
<use href="#c_PER" fill="#c2c280" stroke="#505050" style="stroke-width:var(--sw)"/>
<use href="#c_BRA" fill="#c9c37b" stroke="#505050" style="stroke-width:var(--sw)"/>
<use href="#c_BOL" fill="#c9c37b" stroke="#505050" style="stroke-width:var(--sw)"/>
<use href="#c_PRY" fill="#edbe5a" stroke="#505050" style="stroke-width:var(--sw)"/>
<use href="#c_URY" fill="#a1bba2" stroke="#505050" style="stroke-width:var(--sw)"/>
<use href="#c_CHL" fill="#c2c280" stroke="#505050" style="stroke-width:var(--sw)"/>
<use href="#c_ARG" fill="#90b7b6" stroke="#505050" style="stroke-width:var(--sw)"/>
<use href="#c_FLK" fill="#c2c280" stroke="#505050" style="stroke-width:var(--sw)"/>
<use href="#c_RUS" fill="#89b5be" stroke="#505050" style="stroke-width:var(--sw)"/>
<use href="#c_KGD" fill="#89b5be" stroke="#505050" style="stroke-width:var(--sw)"/>
<use href="#c_NOR" fill="#5fa8ea" stroke="#505050" style="stroke-width:var(--sw)"/>
<use href="#c_SWE" fill="#c2c280" stroke="#505050" style="stroke-width:var(--sw)"/>
<use href="#c_FIN" fill="#dcc66a" stroke="#505050" style="stroke-width:var(--sw)"/>
<use href="#c_DNK" fill="#c2c280" stroke="#505050" style="stroke-width:var(--sw)"/>
<use href="#c_EST" fill="#dcc66a" stroke="#505050" style="stroke-width:var(--sw)"/>
<use href="#c_LVA" fill="#efb755" stroke="#505050" style="stroke-width:var(--sw)"/>
<use href="#c_LTU" fill="#dcc66a" stroke="#505050" style="stroke-width:var(--sw)"/>
<use href="#c_BLR" fill="#c2c280" stroke="#505050" style="stroke-width:var(--sw)"/>
<use href="#c_UKR" fill="#f0b152" stroke="#505050" style="stroke-width:var(--sw)"/>
<use href="#c_MDA" fill="#f37436" stroke="#505050" style="stroke-width:var(--sw)"/>
<use href="#c_POL" fill="#c2c280" stroke="#505050" style="stroke-width:var(--sw)"/>
<use href="#c_DEU" fill="#c9c37b" stroke="#505050" style="stroke-width:var(--sw)"/>
<use href="#c_NLD" fill="#ccc378" stroke="#505050" style="stroke-width:var(--sw)"/>
<use href="#c_BEL" fill="#ccc378" stroke="#505050" style="stroke-width:var(--sw)"/>
<use href="#c_FRA" fill="#f0b152" stroke="#505050" style="stroke-width:var(--sw)"/>
<use href="#c_COR" fill="#f0b152" stroke="#505050" style="stroke-width:var(--sw)"/>
<use href="#c_ESP" fill="#ccc378" stroke="#505050" style="stroke-width:var(--sw)"/>
<use href="#c_PRT" fill="#c2c280" stroke="#505050" style="stroke-width:var(--sw)"/>
<use href="#c_GBR" fill="#ccc378" stroke="#505050" style="stroke-width:var(--sw)"/>
<use href="#c_IRL" fill="#c9c37b" stroke="#505050" style="stroke-width:var(--sw)"/>
<use href="#c_CHE" fill="#c2c280" stroke="#505050" style="stroke-width:var(--sw)"/>
<use href="#c_AUT" fill="#c2c280" stroke="#505050" style="stroke-width:var(--sw)"/>
<use href="#c_ITA" fill="#bcc186" stroke="#505050" style="stroke-width:var(--sw)"/>
<use href="#c_SIC" fill="#bcc186" stroke="#505050" style="stroke-width:var(--sw)"/>
<use href="#c_SAR" fill="#bcc186" stroke="#505050" style="stroke-width:var(--sw)"/>
<use href="#c_CZE" fill="#c2c280" stroke="#505050" style="stroke-width:var(--sw)"/>
<use href="#c_SVK" fill="#c2c280" stroke="#505050" style="stroke-width:var(--sw)"/>
<use href="#c_HUN" fill="#a8bc9a" stroke="#505050" style="stroke-width:var(--sw)"/>
<use href="#c_SVN" fill="#e1c466" stroke="#505050" style="stroke-width:var(--sw)"/>
<use href="#c_HRV" fill="#c2c280" stroke="#505050" style="stroke-width:var(--sw)"/>
<use href="#c_BIH" fill="#e6c261" stroke="#505050" style="stroke-width:var(--sw)"/>
<use href="#c_SRB" fill="#a8bc9a" stroke="#505050" style="stroke-width:var(--sw)"/>
<use href="#c_KOS" fill="#d3d3d3" stroke="#505050" style="stroke-width:var(--sw)"/>
<use href="#c_MNE" fill="#c2c280" stroke="#505050" style="stroke-width:var(--sw)"/>
<use href="#c_ALB" fill="#d2c472" stroke="#505050" style="stroke-width:var(--sw)"/>
<use href="#c_MKD" fill="#97b8ae" stroke="#505050" style="stroke-width:var(--sw)"/>
<use href="#c_GRC" fill="#edbe5a" stroke="#505050" style="stroke-width:var(--sw)"/>
<use href="#c_BGR" fill="#c2c280" stroke="#505050" style="stroke-width:var(--sw)"/>
<use href="#c_ROU" fill="#e1c466" stroke="#505050" style="stroke-width:var(--sw)"/>
<use href="#c_TUR" fill="#a8bc9a" stroke="#505050" style="stroke-width:var(--sw)"/>
<use href="#c_CYP" fill="#c2c280" stroke="#505050" style="stroke-width:var(--sw)"/>
<use href="#c_GEO" fill="#c2c280" stroke="#505050" style="stroke-width:var(--sw)"/>
<use href="#c_ARM" fill="#c2c280" stroke="#505050" style="stroke-width:var(--sw)"/>
<use href="#c_AZE" fill="#c2c280" stroke="#505050" style="stroke-width:var(--sw)"/>
<use href="#c_SYR" fill="#c2c280" stroke="#505050" style="stroke-width:var(--sw)"/>
<use href="#c_LBN" fill="#c2c280" stroke="#505050" style="stroke-width:var(--sw)"/>
<use href="#c_ISR" fill="#c2c280" stroke="#505050" style="stroke-width:var(--sw)"/>
<use href="#c_JOR" fill="#c2c280" stroke="#505050" style="stroke-width:var(--sw)"/>
<use href="#c_IRQ" fill="#a1bba2" stroke="#505050" style="stroke-width:var(--sw)"/>
<use href="#c_KWT" fill="#f27937" stroke="#505050" style="stroke-width:var(--sw)"/>
<use href="#c_SAU" fill="#90b7b6" stroke="#505050" style="stroke-width:var(--sw)"/>
<use href="#c_QAT" fill="#dcc66a" stroke="#505050" style="stroke-width:var(--sw)"/>
<use href="#c_BHR" fill="#c2c280" stroke="#505050" style="stroke-width:var(--sw)"/>
<use href="#c_ARE" fill="#b2bf8e" stroke="#505050" style="stroke-width:var(--sw)"/>
<use href="#c_OMN" fill="#f0b152" stroke="#505050" style="stroke-width:var(--sw)"/>
<use href="#c_OMN2" fill="#f0b152" stroke="#505050" style="stroke-width:var(--sw)"/>
<use href="#c_YEM" fill="#f0b152" stroke="#505050" style="stroke-width:var(--sw)"/>
<use href="#c_IRN" fill="#6cacdd" stroke="#505050" style="stroke-width:var(--sw)"/>
<use href="#c_KAZ" fill="#d9c56d" stroke="#505050" style="stroke-width:var(--sw)"/>
<use href="#c_UZB" fill="#c9c37b" stroke="#505050" style="stroke-width:var(--sw)"/>
<use href="#c_TKM" fill="#c9c37b" stroke="#505050" style="stroke-width:var(--sw)"/>
<use href="#c_KGZ" fill="#c9c37b" stroke="#505050" style="stroke-width:var(--sw)"/>
<use href="#c_TJK" fill="#c9c37b" stroke="#505050" style="stroke-width:var(--sw)"/>
<use href="#c_AFG" fill="#f28c3f" stroke="#505050" style="stroke-width:var(--sw)"/>
<use href="#c_PAK" fill="#e1c466" stroke="#505050" style="stroke-width:var(--sw)"/>
<use href="#c_IND" fill="#e1c466" stroke="#505050" style="stroke-width:var(--sw)"/>
<use href="#c_NPL" fill="#e1c466" stroke="#505050" style="stroke-width:var(--sw)"/>
<use href="#c_BTN" fill="#e1c466" stroke="#505050" style="stroke-width:var(--sw)"/>
<use href="#c_BGD" fill="#e6c261" stroke="#505050" style="stroke-width:var(--sw)"/>
<use href="#c_LKA" fill="#e1c466" stroke="#505050" style="stroke-width:var(--sw)"/>
<use href="#c_MMR" fill="#e6c261" stroke="#505050" style="stroke-width:var(--sw)"/>
<use href="#c_THA" fill="#edbe5a" stroke="#505050" style="stroke-width:var(--sw)"/>
<use href="#c_LAO" fill="#edbe5a" stroke="#505050" style="stroke-width:var(--sw)"/>
<use href="#c_KHM" fill="#edbe5a" stroke="#505050" style="stroke-width:var(--sw)"/>
<use href="#c_VNM" fill="#e6c261" stroke="#505050" style="stroke-width:var(--sw)"/>
<use href="#c_MYS" fill="#efbd58" stroke="#505050" style="stroke-width:var(--sw)"/>
<use href="#c_MYS2" fill="#efbd58" stroke="#505050" style="stroke-width:var(--sw)"/>
<use href="#c_IDN" fill="#edbe5a" stroke="#505050" style="stroke-width:var(--sw)"/>
<use href="#c_IDN2" fill="#edbe5a" stroke="#505050" style="stroke-width:var(--sw)"/>
<use href="#c_IDN3" fill="#edbe5a" stroke="#505050" style="stroke-width:var(--sw)"/>
<use href="#c_IDN4" fill="#edbe5a" stroke="#505050" style="stroke-width:var(--sw)"/>
<use href="#c_IDN5" fill="#edbe5a" stroke="#505050" style="stroke-width:var(--sw)"/>
<use href="#c_IDN6" fill="#edbe5a" stroke="#505050" style="stroke-width:var(--sw)"/>
<use href="#c_IDN7" fill="#edbe5a" stroke="#505050" style="stroke-width:var(--sw)"/>
<use href="#c_TLS" fill="#edbe5a" stroke="#505050" style="stroke-width:var(--sw)"/>
<use href="#c_PNG" fill="#f1a24a" stroke="#505050" style="stroke-width:var(--sw)"/>
<use href="#c_SLB" fill="#edbe5a" stroke="#505050" style="stroke-width:var(--sw)"/>
<use href="#c_PHL" fill="#e1c466" stroke="#505050" style="stroke-width:var(--sw)"/>
<use href="#c_CHN" fill="#b8c088" stroke="#505050" style="stroke-width:var(--sw)"/>
<use href="#c_HAI" fill="#b8c088" stroke="#505050" style="stroke-width:var(--sw)"/>
<use href="#c_TWN" fill="#c2c280" stroke="#505050" style="stroke-width:var(--sw)"/>
<use href="#c_MNG" fill="#c9c37b" stroke="#505050" style="stroke-width:var(--sw)"/>
<use href="#c_PRK" fill="#c2c280" stroke="#505050" style="stroke-width:var(--sw)"/>
<use href="#c_KOR" fill="#c2c280" stroke="#505050" style="stroke-width:var(--sw)"/>
<use href="#c_JPN" fill="#edbe5a" stroke="#505050" style="stroke-width:var(--sw)"/>
<use href="#c_MAR" fill="#ccc378" stroke="#505050" style="stroke-width:var(--sw)"/>
<use href="#c_ESH" fill="#e1c466" stroke="#505050" style="stroke-width:var(--sw)"/>
<use href="#c_DZA" fill="#ccc378" stroke="#505050" style="stroke-width:var(--sw)"/>
<use href="#c_TUN" fill="#ccc378" stroke="#505050" style="stroke-width:var(--sw)"/>
<use href="#c_LBY" fill="#f0ab4f" stroke="#505050" style="stroke-width:var(--sw)"/>
<use href="#c_EGY" fill="#9ab9aa" stroke="#505050" style="stroke-width:var(--sw)"/>
<use href="#c_MRT" fill="#e6c261" stroke="#505050" style="stroke-width:var(--sw)"/>
<use href="#c_MLI" fill="#e6c261" stroke="#505050" style="stroke-width:var(--sw)"/>
<use href="#c_NER" fill="#e6c261" stroke="#505050" style="stroke-width:var(--sw)"/>
<use href="#c_TCD" fill="#f19f49" stroke="#505050" style="stroke-width:var(--sw)"/>
<use href="#c_SDN" fill="#f0b152" stroke="#505050" style="stroke-width:var(--sw)"/>
<use href="#c_SSD" fill="#e6c261" stroke="#505050" style="stroke-width:var(--sw)"/>
<use href="#c_ERI" fill="#e6c261" stroke="#505050" style="stroke-width:var(--sw)"/>
<use href="#c_ETH" fill="#ccc378" stroke="#505050" style="stroke-width:var(--sw)"/>
<use href="#c_DJI" fill="#e1c466" stroke="#505050" style="stroke-width:var(--sw)"/>
<use href="#c_SOM" fill="#ccc378" stroke="#505050" style="stroke-width:var(--sw)"/>
<use href="#c_KEN" fill="#dcc66a" stroke="#505050" style="stroke-width:var(--sw)"/>
<use href="#c_UGA" fill="#c2c280" stroke="#505050" style="stroke-width:var(--sw)"/>
<use href="#c_RWA" fill="#c2c280" stroke="#505050" style="stroke-width:var(--sw)"/>
<use href="#c_BDI" fill="#c2c280" stroke="#505050" style="stroke-width:var(--sw)"/>
<use href="#c_TZA" fill="#dcc66a" stroke="#505050" style="stroke-width:var(--sw)"/>
<use href="#c_NGA" fill="#efbd58" stroke="#505050" style="stroke-width:var(--sw)"/>
<use href="#c_CMR" fill="#f0b152" stroke="#505050" style="stroke-width:var(--sw)"/>
<use href="#c_CAF" fill="#e1c466" stroke="#505050" style="stroke-width:var(--sw)"/>
<use href="#c_GNQ" fill="#c2c280" stroke="#505050" style="stroke-width:var(--sw)"/>
<use href="#c_GAB" fill="#c2c280" stroke="#505050" style="stroke-width:var(--sw)"/>
<use href="#c_COG" fill="#c2c280" stroke="#505050" style="stroke-width:var(--sw)"/>
<use href="#c_COD" fill="#c2c280" stroke="#505050" style="stroke-width:var(--sw)"/>
<use href="#c_AGO" fill="#c2c280" stroke="#505050" style="stroke-width:var(--sw)"/>
<use href="#c_ZMB" fill="#c2c280" stroke="#505050" style="stroke-width:var(--sw)"/>
<use href="#c_MWI" fill="#c2c280" stroke="#505050" style="stroke-width:var(--sw)"/>
<use href="#c_MOZ" fill="#c2c280" stroke="#505050" style="stroke-width:var(--sw)"/>
<use href="#c_ZWE" fill="#f27937" stroke="#505050" style="stroke-width:var(--sw)"/>
<use href="#c_NAM" fill="#f0ab4f" stroke="#505050" style="stroke-width:var(--sw)"/>
<use href="#c_BWA" fill="#f19f49" stroke="#505050" style="stroke-width:var(--sw)"/>
<use href="#c_ZAF" fill="#ccc378" stroke="#505050" style="stroke-width:var(--sw)"/>
<use href="#c_LSO" fill="#e1c466" stroke="#505050" style="stroke-width:var(--sw)"/>
<use href="#c_SWZ" fill="#e1c466" stroke="#505050" style="stroke-width:var(--sw)"/>
<use href="#c_SEN" fill="#ccc378" stroke="#505050" style="stroke-width:var(--sw)"/>
<use href="#c_GMB" fill="#ccc378" stroke="#505050" style="stroke-width:var(--sw)"/>
<use href="#c_GNB" fill="#e1c466" stroke="#505050" style="stroke-width:var(--sw)"/>
<use href="#c_GIN" fill="#e6c261" stroke="#505050" style="stroke-width:var(--sw)"/>
<use href="#c_SLE" fill="#e6c261" stroke="#505050" style="stroke-width:var(--sw)"/>
<use href="#c_LBR" fill="#e6c261" stroke="#505050" style="stroke-width:var(--sw)"/>
<use href="#c_CIV" fill="#e6c261" stroke="#505050" style="stroke-width:var(--sw)"/>
<use href="#c_BFA" fill="#edbe5a" stroke="#505050" style="stroke-width:var(--sw)"/>
<use href="#c_GHA" fill="#edbe5a" stroke="#505050" style="stroke-width:var(--sw)"/>
<use href="#c_TGO" fill="#edbe5a" stroke="#505050" style="stroke-width:var(--sw)"/>
<use href="#c_BEN" fill="#edbe5a" stroke="#505050" style="stroke-width:var(--sw)"/>
<use href="#c_MDG" fill="#ccc378" stroke="#505050" style="stroke-width:var(--sw)"/>
<use href="#c_AUS" fill="#c2c280" stroke="#505050" style="stroke-width:var(--sw)"/>
<use href="#c_NZL" fill="#edbe5a" stroke="#505050" style="stroke-width:var(--sw)"/>
<use href="#c_SJM" fill="#5fa8ea" stroke="#505050" style="stroke-width:var(--sw)"/>
</g><use href="#land" fill="none" stroke="#505050" style="stroke-width:var(--sw)"/>
<use href="#water" fill="#fff" stroke="#505050" style="stroke-width:var(--sw)"/></g>
</defs>
<g transform="translate(256.2,117.45) scale(1.2575,1.0135)"><use href="#mapA" style="--sw:0.266"/></g>
<svg x="5.70" y="227.30" width="92.40" height="52.40" viewBox="-92.3 -31.2 35.5 27.7" preserveAspectRatio="none"><use href="#mapA" style="--sw:0.1352"/></svg>
<text class="it" x="5.70" y="226.30">Caribbean and Central America</text>
<svg x="108.70" y="227.30" width="92.00" height="52.50" viewBox="46.5 -30.8 12 8.4" preserveAspectRatio="none"><use href="#mapA" style="--sw:0.0433"/></svg>
<text class="it" x="108.70" y="226.30">Persian Gulf</text>
<svg x="211.10" y="227.30" width="92.00" height="52.50" viewBox="12.4 -46.35 16.1 7.65" preserveAspectRatio="none"><use href="#mapA" style="--sw:0.0479"/></svg>
<text class="it" x="211.10" y="226.30">Balkan Peninsula</text>
<svg x="313.70" y="227.30" width="92.30" height="52.50" viewBox="92.2 -21.1 64.8 32.6" preserveAspectRatio="none"><use href="#mapA" style="--sw:0.1981"/></svg>
<text class="it" x="313.70" y="226.30">Southeast Asia</text>
<svg x="418.20" y="227.00" width="44.30" height="18.00" viewBox="-18 -19.5 34.5 15.5" preserveAspectRatio="none"><use href="#mapA" style="--sw:0.2457"/></svg>
<text class="it" x="416.30" y="226.00">West Africa</text>
<svg x="473.30" y="227.00" width="45.60" height="18.00" viewBox="24.6 -41.3 16.9 12.3" preserveAspectRatio="none"><use href="#mapA" style="--sw:0.1510"/></svg>
<text class="it" x="473.30" y="226.00">Eastern Mediterranean</text>
<svg x="420.80" y="263.10" width="98.10" height="17.10" viewBox="4.5 -71.5 28 17" preserveAspectRatio="none"><use href="#mapA" style="--sw:0.1598"/></svg>
<text class="it" x="416.30" y="262.10">Northern Europe</text>
<text class="lt" x="31.60" y="117.30">AAPC of ASIR</text>
<rect x="47.80" y="119.80" width="10.10" height="51.50" fill="url(#lg)"/>
<text class="ll" x="59.60" y="138.30">0</text>
<text class="ll" x="59.60" y="158.80">-1</text>
<text class="pl" transform="translate(2.10,12.20) scale(0.91,1)">A</text>
<g transform="translate(782.19,114.75) scale(1.25265,1.0135)"><use href="#mapB" style="--sw:0.266"/></g>
<svg x="533.50" y="223.30" width="92.40" height="52.40" viewBox="-92.3 -31.2 35.5 27.7" preserveAspectRatio="none"><use href="#mapB" style="--sw:0.1352"/></svg>
<text class="it" x="533.50" y="222.30">Caribbean and Central America</text>
<svg x="636.00" y="223.30" width="92.00" height="52.50" viewBox="46.5 -30.8 12 8.4" preserveAspectRatio="none"><use href="#mapB" style="--sw:0.0433"/></svg>
<text class="it" x="636.00" y="222.30">Persian Gulf</text>
<svg x="738.00" y="223.30" width="92.00" height="52.50" viewBox="12.4 -46.35 16.1 7.65" preserveAspectRatio="none"><use href="#mapB" style="--sw:0.0479"/></svg>
<text class="it" x="738.00" y="222.30">Balkan Peninsula</text>
<svg x="839.75" y="223.30" width="92.30" height="52.50" viewBox="92.2 -21.1 64.8 32.6" preserveAspectRatio="none"><use href="#mapB" style="--sw:0.1981"/></svg>
<text class="it" x="839.75" y="222.30">Southeast Asia</text>
<svg x="944.00" y="223.00" width="44.30" height="18.00" viewBox="-18 -19.5 34.5 15.5" preserveAspectRatio="none"><use href="#mapB" style="--sw:0.2457"/></svg>
<text class="it" x="942.10" y="222.00">West Africa</text>
<svg x="998.50" y="223.00" width="45.60" height="18.00" viewBox="24.6 -41.3 16.9 12.3" preserveAspectRatio="none"><use href="#mapB" style="--sw:0.1510"/></svg>
<text class="it" x="998.50" y="222.00">Eastern Mediterranean</text>
<svg x="945.25" y="259.10" width="98.10" height="17.10" viewBox="4.5 -71.5 28 17" preserveAspectRatio="none"><use href="#mapB" style="--sw:0.1598"/></svg>
<text class="it" x="940.75" y="258.10">Northern Europe</text>
<text class="lt" x="559.20" y="114.30">AAPC of ASPR</text>
<rect x="574.40" y="116.60" width="9.50" height="51.20" fill="url(#lg)"/>
<text class="ll" x="586.40" y="122.40">1.0</text>
<text class="ll" x="586.40" y="131.40">0.5</text>
<text class="ll" x="586.40" y="140.70">0.0</text>
<text class="ll" x="586.40" y="150.00">-0.5</text>
<text class="ll" x="586.40" y="159.20">-1.0</text>
<text class="ll" x="586.40" y="168.60">-1.5</text>
<text class="pl" transform="translate(532.60,12.10) scale(0.91,1)">B</text>
<g transform="translate(257.4,386.55) scale(1.2555,1.0135)"><use href="#mapC" style="--sw:0.266"/></g>
<svg x="8.75" y="495.00" width="92.40" height="52.40" viewBox="-92.3 -31.2 35.5 27.7" preserveAspectRatio="none"><use href="#mapC" style="--sw:0.1352"/></svg>
<text class="it" x="8.75" y="494.00">Caribbean and Central America</text>
<svg x="111.25" y="495.00" width="92.00" height="52.50" viewBox="46.5 -30.8 12 8.4" preserveAspectRatio="none"><use href="#mapC" style="--sw:0.0433"/></svg>
<text class="it" x="111.25" y="494.00">Persian Gulf</text>
<svg x="213.00" y="495.00" width="92.00" height="52.50" viewBox="12.4 -46.35 16.1 7.65" preserveAspectRatio="none"><use href="#mapC" style="--sw:0.0479"/></svg>
<text class="it" x="213.00" y="494.00">Balkan Peninsula</text>
<svg x="315.45" y="495.00" width="92.30" height="52.50" viewBox="92.2 -21.1 64.8 32.6" preserveAspectRatio="none"><use href="#mapC" style="--sw:0.1981"/></svg>
<text class="it" x="315.45" y="494.00">Southeast Asia</text>
<svg x="419.10" y="494.70" width="44.30" height="18.00" viewBox="-18 -19.5 34.5 15.5" preserveAspectRatio="none"><use href="#mapC" style="--sw:0.2457"/></svg>
<text class="it" x="417.20" y="493.70">West Africa</text>
<svg x="474.00" y="494.70" width="45.60" height="18.00" viewBox="24.6 -41.3 16.9 12.3" preserveAspectRatio="none"><use href="#mapC" style="--sw:0.1510"/></svg>
<text class="it" x="474.00" y="493.70">Eastern Mediterranean</text>
<svg x="421.75" y="530.80" width="98.10" height="17.10" viewBox="4.5 -71.5 28 17" preserveAspectRatio="none"><use href="#mapC" style="--sw:0.1598"/></svg>
<text class="it" x="417.25" y="529.80">Northern Europe</text>
<text class="lt" x="34.50" y="386.10">AAPC of ASMR</text>
<rect x="52.80" y="388.30" width="9.90" height="51.60" fill="url(#lg)"/>
<text class="ll" x="64.80" y="393.80">5</text>
<text class="ll" x="64.80" y="410.50">0</text>
<text class="ll" x="64.80" y="427.40">-5</text>
<text class="pl" transform="translate(1.20,292.90) scale(0.91,1)">C</text>
<g transform="translate(784.33,388.65) scale(1.2597,1.0135)"><use href="#mapD" style="--sw:0.266"/></g>
<svg x="533.70" y="498.00" width="92.40" height="52.40" viewBox="-92.3 -31.2 35.5 27.7" preserveAspectRatio="none"><use href="#mapD" style="--sw:0.1352"/></svg>
<text class="it" x="533.70" y="497.00">Caribbean and Central America</text>
<svg x="636.70" y="498.00" width="92.00" height="52.50" viewBox="46.5 -30.8 12 8.4" preserveAspectRatio="none"><use href="#mapD" style="--sw:0.0433"/></svg>
<text class="it" x="636.70" y="497.00">Persian Gulf</text>
<svg x="739.10" y="498.00" width="92.00" height="52.50" viewBox="12.4 -46.35 16.1 7.65" preserveAspectRatio="none"><use href="#mapD" style="--sw:0.0479"/></svg>
<text class="it" x="739.10" y="497.00">Balkan Peninsula</text>
<svg x="841.70" y="498.00" width="92.30" height="52.50" viewBox="92.2 -21.1 64.8 32.6" preserveAspectRatio="none"><use href="#mapD" style="--sw:0.1981"/></svg>
<text class="it" x="841.70" y="497.00">Southeast Asia</text>
<svg x="946.20" y="497.70" width="44.30" height="18.00" viewBox="-18 -19.5 34.5 15.5" preserveAspectRatio="none"><use href="#mapD" style="--sw:0.2457"/></svg>
<text class="it" x="944.30" y="496.70">West Africa</text>
<svg x="1001.30" y="497.70" width="45.60" height="18.00" viewBox="24.6 -41.3 16.9 12.3" preserveAspectRatio="none"><use href="#mapD" style="--sw:0.1510"/></svg>
<text class="it" x="1001.30" y="496.70">Eastern Mediterranean</text>
<svg x="948.80" y="533.80" width="98.10" height="17.10" viewBox="4.5 -71.5 28 17" preserveAspectRatio="none"><use href="#mapD" style="--sw:0.1598"/></svg>
<text class="it" x="944.30" y="532.80">Northern Europe</text>
<text class="lt" x="559.80" y="387.80">AAPC of ASDR</text>
<rect x="577.10" y="390.40" width="10.20" height="51.20" fill="url(#lg)"/>
<text class="ll" x="589.60" y="396.00">5</text>
<text class="ll" x="589.60" y="413.20">0</text>
<text class="ll" x="589.60" y="430.80">-5</text>
<text class="pl" transform="translate(532.60,292.90) scale(0.91,1)">D</text>
<rect x="0" y="280.5" width="20" height="6.6" fill="#fff"/>
</svg></body></html>
